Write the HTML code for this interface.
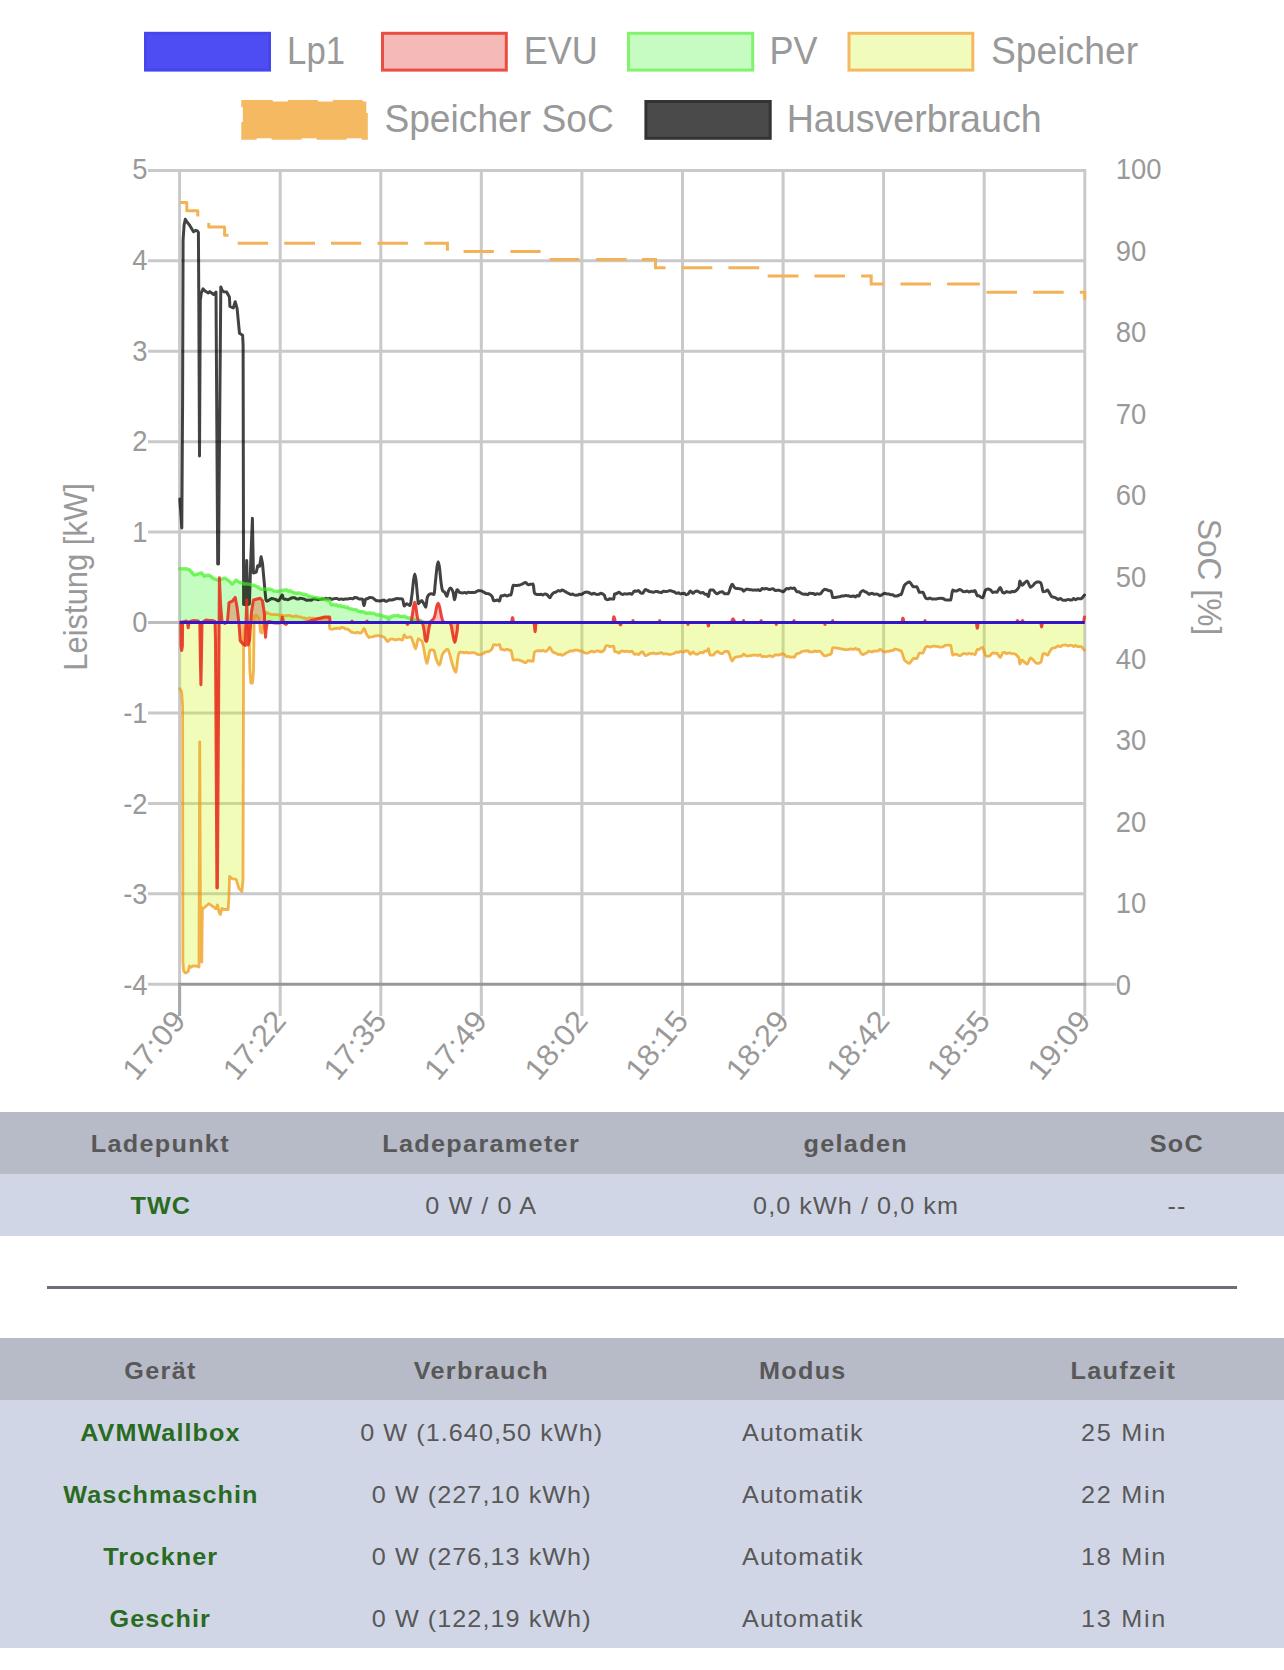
<!DOCTYPE html><html lang="de"><head><meta charset="utf-8"><title>openWB</title><style>
html,body{margin:0;padding:0;background:#fff;}
body{width:1284px;height:1670px;overflow:hidden;font-family:"Liberation Sans",Arial,Helvetica,sans-serif;color:#555;}
.tbl{display:flex;width:1284px;}
.sx{display:inline-block;transform:scaleX(1.05);transform-origin:50% 50%;}
.tbl div{text-align:center;font-size:24px;letter-spacing:1.0px;white-space:nowrap;box-sizing:border-box;}
.hd{background:#b7bac7;height:62px;line-height:63px;font-weight:bold;color:#585858;letter-spacing:1.25px !important;}
.rw{background:#d1d6e6;height:62px;line-height:63px;color:#585858;}
.rw b{color:#2a6b22;font-weight:bold;letter-spacing:1.0px;}
.tbl div.hd,.tbl.hd div{letter-spacing:1.25px}
.mn{letter-spacing:1.65px}
.t2 div{line-height:65px}
.c3{width:321px}.c4{width:428px}.c2{width:214px}
hr{border:0;height:3px;background:#6c6f78;margin:0;position:absolute;left:47px;width:1190px;top:1286px;}
</style></head><body>
<svg width="1284" height="1112" viewBox="0 0 1284 1112" style="display:block">
<rect width="1284" height="1112" fill="#fff"/>
<g font-family="'Liberation Sans', Arial, Helvetica, sans-serif">
<rect x="145.5" y="33.3" width="124.0" height="36.8" fill="#4d4df3" stroke="#4646ee" stroke-width="3"/>
<text x="287.1" y="64.2" font-size="38.5" fill="#999999" textLength="58.0" lengthAdjust="spacingAndGlyphs">Lp1</text>
<rect x="382.5" y="33.3" width="123.8" height="36.8" fill="#f5b9b8" stroke="#ea4d41" stroke-width="3"/>
<text x="523.7" y="64.2" font-size="38.5" fill="#999999" textLength="74.1" lengthAdjust="spacingAndGlyphs">EVU</text>
<rect x="628.5" y="33.3" width="124.2" height="36.8" fill="#c6fbc1" stroke="#7ff46c" stroke-width="3"/>
<text x="769.5" y="64.2" font-size="38.5" fill="#999999" textLength="48.0" lengthAdjust="spacingAndGlyphs">PV</text>
<rect x="849.0" y="33.3" width="123.8" height="36.8" fill="#f1fcbc" stroke="#f5b861" stroke-width="3"/>
<text x="990.9" y="64.2" font-size="38.5" fill="#999999" textLength="147.2" lengthAdjust="spacingAndGlyphs">Speicher</text>
<rect x="242.8" y="101.5" width="123.5" height="36.8" fill="#f4b961" stroke="#f4b961" stroke-width="3" stroke-dasharray="30 15"/>
<text x="384.4" y="132.3" font-size="38.5" fill="#999999" textLength="229.4" lengthAdjust="spacingAndGlyphs">Speicher SoC</text>
<rect x="645.9" y="101.5" width="124.3" height="36.8" fill="#4a4a4a" stroke="#333333" stroke-width="3"/>
<text x="786.7" y="132.3" font-size="38.5" fill="#999999" textLength="254.9" lengthAdjust="spacingAndGlyphs">Hausverbrauch</text>
<path d="M179.6,168.9 V1016.0 M280.2,168.9 V1016.0 M380.8,168.9 V1016.0 M481.3,168.9 V1016.0 M581.9,168.9 V1016.0 M682.5,168.9 V1016.0 M783.1,168.9 V1016.0 M883.6,168.9 V1016.0 M984.2,168.9 V1016.0 M1084.8,168.9 V1016.0 M148.0,170.4 H1086.3 M148.0,260.8 H1086.3 M148.0,351.2 H1086.3 M148.0,441.7 H1086.3 M148.0,532.1 H1086.3 M148.0,622.5 H1086.3 M148.0,712.9 H1086.3 M148.0,803.4 H1086.3 M148.0,893.8 H1086.3 M148.0,984.2 H179.6" stroke="#c9c9c9" stroke-width="3" fill="none"/>
<path d="M1084.8,984.2 H1116.0 M148,622.5 H179.6" stroke="#bdbdbd" stroke-width="3" fill="none"/>
<path d="M178.1,984.2 H1086.3" stroke="#979797" stroke-width="3" fill="none"/>
<path d="M179.6,984.2 V1016" stroke="#a8a8a8" stroke-width="3" fill="none"/>
<text transform="translate(147.6,179.2) scale(0.945,1)" font-size="29" fill="#999999" text-anchor="end">5</text>
<text transform="translate(147.6,269.9) scale(0.945,1)" font-size="29" fill="#999999" text-anchor="end">4</text>
<text transform="translate(147.6,360.5) scale(0.945,1)" font-size="29" fill="#999999" text-anchor="end">3</text>
<text transform="translate(147.6,451.2) scale(0.945,1)" font-size="29" fill="#999999" text-anchor="end">2</text>
<text transform="translate(147.6,541.8) scale(0.945,1)" font-size="29" fill="#999999" text-anchor="end">1</text>
<text transform="translate(147.6,632.4) scale(0.945,1)" font-size="29" fill="#999999" text-anchor="end">0</text>
<text transform="translate(147.6,723.1) scale(0.945,1)" font-size="29" fill="#999999" text-anchor="end">-1</text>
<text transform="translate(147.6,813.7) scale(0.945,1)" font-size="29" fill="#999999" text-anchor="end">-2</text>
<text transform="translate(147.6,904.4) scale(0.945,1)" font-size="29" fill="#999999" text-anchor="end">-3</text>
<text transform="translate(147.6,995.0) scale(0.945,1)" font-size="29" fill="#999999" text-anchor="end">-4</text>
<text transform="translate(1115.7,994.7) scale(0.945,1)" font-size="29" fill="#999999">0</text>
<text transform="translate(1115.7,913.1) scale(0.945,1)" font-size="29" fill="#999999">10</text>
<text transform="translate(1115.7,831.6) scale(0.945,1)" font-size="29" fill="#999999">20</text>
<text transform="translate(1115.7,750.0) scale(0.945,1)" font-size="29" fill="#999999">30</text>
<text transform="translate(1115.7,668.5) scale(0.945,1)" font-size="29" fill="#999999">40</text>
<text transform="translate(1115.7,586.9) scale(0.945,1)" font-size="29" fill="#999999">50</text>
<text transform="translate(1115.7,505.4) scale(0.945,1)" font-size="29" fill="#999999">60</text>
<text transform="translate(1115.7,423.8) scale(0.945,1)" font-size="29" fill="#999999">70</text>
<text transform="translate(1115.7,342.3) scale(0.945,1)" font-size="29" fill="#999999">80</text>
<text transform="translate(1115.7,260.8) scale(0.945,1)" font-size="29" fill="#999999">90</text>
<text transform="translate(1115.7,179.2) scale(0.945,1)" font-size="29" fill="#999999">100</text>
<text transform="translate(179.1,1015.0) rotate(-50) scale(1.050,1)" x="0" y="10.2" font-size="30" fill="#999999" text-anchor="end">17:09</text>
<text transform="translate(279.7,1015.0) rotate(-50) scale(1.050,1)" x="0" y="10.2" font-size="30" fill="#999999" text-anchor="end">17:22</text>
<text transform="translate(380.3,1015.0) rotate(-50) scale(1.050,1)" x="0" y="10.2" font-size="30" fill="#999999" text-anchor="end">17:35</text>
<text transform="translate(480.8,1015.0) rotate(-50) scale(1.050,1)" x="0" y="10.2" font-size="30" fill="#999999" text-anchor="end">17:49</text>
<text transform="translate(581.4,1015.0) rotate(-50) scale(1.050,1)" x="0" y="10.2" font-size="30" fill="#999999" text-anchor="end">18:02</text>
<text transform="translate(682.0,1015.0) rotate(-50) scale(1.050,1)" x="0" y="10.2" font-size="30" fill="#999999" text-anchor="end">18:15</text>
<text transform="translate(782.6,1015.0) rotate(-50) scale(1.050,1)" x="0" y="10.2" font-size="30" fill="#999999" text-anchor="end">18:29</text>
<text transform="translate(883.1,1015.0) rotate(-50) scale(1.050,1)" x="0" y="10.2" font-size="30" fill="#999999" text-anchor="end">18:42</text>
<text transform="translate(983.7,1015.0) rotate(-50) scale(1.050,1)" x="0" y="10.2" font-size="30" fill="#999999" text-anchor="end">18:55</text>
<text transform="translate(1084.3,1015.0) rotate(-50) scale(1.050,1)" x="0" y="10.2" font-size="30" fill="#999999" text-anchor="end">19:09</text>
<text transform="translate(76.3,577) rotate(-90)" x="0" y="10.8" font-size="32.5" fill="#999999" text-anchor="middle" textLength="187.5" lengthAdjust="spacingAndGlyphs">Leistung [kW]</text>
<text transform="translate(1208.4,577) rotate(90)" x="0" y="10.8" font-size="32.5" fill="#999999" text-anchor="middle" textLength="116.5" lengthAdjust="spacingAndGlyphs">SoC [%]</text>
</g>
<g stroke-linejoin="round" stroke-linecap="round" fill="none">
<path d="M179.8,688.6 C179.8,688.6 181.6,692.0 181.6,692.0 C181.6,692.0 182.6,706.0 182.6,706.0 C182.6,706.0 182.9,962.0 182.9,962.0 C182.9,962.0 183.6,971.0 183.6,971.0 C183.6,971.0 185.5,973.0 185.5,973.0 C185.5,973.0 188.2,971.5 188.2,971.5 C188.2,971.5 189.6,966.0 189.6,966.0 C189.6,966.0 190.8,967.3 190.8,967.3 C190.8,967.3 193.0,965.8 193.0,965.8 C193.0,965.8 196.6,966.2 196.6,966.2 C196.6,966.2 199.0,967.0 199.0,967.0 C199.0,967.0 199.7,741.8 199.7,741.8 C199.7,741.8 200.6,960.0 200.6,960.0 C200.6,960.0 201.8,962.0 201.8,962.0 C201.8,962.0 202.4,908.0 202.4,908.0 C202.4,908.0 203.0,908.8 203.0,908.8 C203.0,908.8 208.8,903.7 208.8,903.7 C208.8,903.7 216.0,908.8 216.0,908.8 C216.0,908.8 217.5,905.0 217.5,905.0 C217.5,905.0 219.0,912.0 219.0,912.0 C219.0,912.0 220.3,914.5 220.3,914.5 C220.3,914.5 222.0,908.5 222.0,908.5 C222.0,908.5 223.9,909.5 223.9,909.5 C223.9,909.5 228.2,909.5 228.2,909.5 C228.2,909.5 229.0,895.0 229.0,895.0 C229.0,895.0 229.6,876.4 229.6,876.4 C229.6,876.4 231.8,878.6 231.8,878.6 C231.8,878.6 236.1,879.3 236.1,879.3 C236.1,879.3 239.0,888.6 239.0,888.6 C239.0,888.6 241.9,891.5 241.9,891.5 C241.9,891.5 243.0,880.0 243.0,880.0 C243.0,880.0 243.6,640.0 243.6,640.0 C243.6,640.0 245.0,628.0 245.0,628.0 C245.0,628.0 247.0,625.0 247.0,625.0 C247.0,625.0 249.2,636.0 249.2,636.0 C249.2,636.0 249.8,670.0 249.8,670.0 C249.8,670.0 250.8,683.0 250.8,683.0 C250.8,683.0 252.5,683.0 252.5,683.0 C252.5,683.0 253.6,670.0 253.6,670.0 C253.6,670.0 254.2,616.0 254.2,616.0 C254.2,616.0 256.0,615.0 256.0,615.0 C256.0,615.0 259.0,618.0 259.0,618.0 C259.0,618.0 260.5,632.0 260.5,632.0 C260.5,632.0 262.0,633.0 262.0,633.0 C262.0,633.0 264.0,618.0 264.0,618.0 C264.0,618.0 265.9,612.3 265.9,612.3 C265.9,612.3 269.0,613.6 270.7,614.2 C271.3,614.4 271.9,614.6 272.5,614.7 C273.1,614.7 273.7,614.5 274.3,614.5 C275.0,614.5 275.5,614.7 276.2,614.7 C276.8,614.7 277.4,614.6 278.0,614.6 C278.6,614.8 279.1,615.3 279.8,615.4 C280.5,615.4 281.1,615.2 281.8,615.2 C282.5,615.3 283.0,615.6 283.7,615.7 C284.4,615.8 285.0,615.9 285.7,615.9 C286.4,615.8 286.9,615.4 287.6,615.4 C288.3,615.4 288.9,615.4 289.6,615.4 C290.3,615.5 290.8,615.9 291.5,616.1 C292.1,616.3 292.7,616.5 293.3,616.5 C294.0,616.5 294.5,616.1 295.2,616.0 C295.9,616.0 296.5,616.0 297.1,616.2 C297.8,616.3 298.3,616.8 299.0,616.9 C299.6,616.9 300.2,616.9 300.8,616.9 C301.5,617.1 302.0,617.7 302.7,617.9 C303.3,617.9 303.9,617.8 304.5,617.8 C305.2,618.0 305.7,618.7 306.3,618.8 C306.9,618.8 307.5,618.4 308.1,618.2 C308.8,618.0 309.3,617.7 309.9,617.7 C310.6,617.8 311.1,618.7 311.8,618.8 C312.4,618.8 312.9,618.0 313.6,618.0 C314.2,618.0 314.7,618.9 315.4,618.9 C316.0,618.9 316.5,618.2 317.2,618.2 C317.8,618.2 318.4,618.6 319.0,618.7 C319.7,618.9 320.3,619.0 321.0,619.0 C321.7,618.9 322.2,618.4 323.0,618.1 C323.6,617.8 324.3,617.5 324.9,617.5 C325.7,617.6 326.2,618.4 326.9,618.5 C327.6,618.5 328.7,617.9 328.9,617.9 C329.7,620.8 328.9,625.3 329.7,628.5 C329.9,629.3 331.3,629.3 332.2,629.3 C332.9,629.3 333.4,628.8 334.1,628.7 C334.8,628.6 335.3,628.6 336.0,628.5 C336.7,628.4 337.2,628.2 337.9,628.2 C338.6,628.2 339.2,628.8 339.8,628.8 C340.5,628.7 341.0,627.6 341.7,627.4 C342.3,627.4 343.0,627.4 343.6,627.7 C344.3,628.0 344.8,628.7 345.6,629.0 C346.2,629.1 346.9,629.0 347.5,629.1 C348.3,629.4 348.8,630.0 349.5,630.6 C350.2,631.1 350.7,631.8 351.4,632.2 C352.0,632.5 352.7,632.4 353.4,632.6 C354.1,632.8 354.8,633.1 355.4,633.1 C356.2,633.0 356.8,632.1 357.5,632.1 C358.2,632.1 358.8,633.1 359.6,633.2 C360.2,633.2 361.1,633.1 361.6,632.6 C362.7,631.5 363.3,628.5 364.0,628.5 C365.0,628.8 365.4,632.3 366.5,634.2 C367.2,635.5 368.0,636.8 369.0,637.5 C369.5,637.5 370.2,637.0 370.8,636.9 C371.4,636.9 372.0,636.9 372.6,636.9 C373.3,636.8 373.8,636.4 374.5,636.2 C375.1,636.0 375.7,636.0 376.3,635.9 C377.0,635.8 377.6,635.7 378.4,635.7 C379.1,635.7 379.7,635.9 380.4,636.1 C381.1,636.2 381.8,636.2 382.4,636.5 C383.2,636.7 383.9,637.0 384.5,637.5 C385.8,638.8 386.6,641.3 387.8,641.6 C388.6,641.6 389.2,639.7 390.2,639.1 C390.7,639.1 391.3,639.1 392.0,639.1 C392.6,639.2 393.1,639.2 393.7,639.3 C394.3,639.5 394.8,640.0 395.5,640.0 C396.1,640.0 396.6,639.6 397.2,639.5 C397.8,639.4 398.4,639.2 399.0,639.2 C399.6,639.2 400.1,639.5 400.7,639.6 C401.4,639.8 402.2,640.0 402.5,640.0 C403.4,638.7 403.4,635.2 404.3,634.8 C404.9,634.8 405.7,637.3 406.7,637.9 C407.2,637.9 408.0,637.5 408.6,637.3 C409.3,637.1 410.2,636.8 410.6,636.8 C411.7,637.9 412.2,640.0 412.9,641.8 C413.9,644.2 414.8,648.8 415.6,648.8 C416.7,648.2 417.0,641.2 418.3,638.7 C418.6,638.7 419.6,639.5 420.2,640.0 C421.0,640.6 421.9,641.0 422.2,641.8 C423.3,644.9 423.5,647.9 424.2,651.2 C425.1,655.5 425.9,663.6 426.9,663.6 C427.9,663.5 428.5,654.6 430.0,650.4 C430.2,650.0 431.3,650.0 431.9,650.0 C432.6,650.0 433.6,650.0 433.9,650.4 C435.1,653.0 435.1,656.1 436.2,659.0 C437.0,661.3 438.6,665.2 439.4,665.2 C440.8,664.2 441.0,657.9 442.5,654.3 C443.2,652.7 444.4,651.6 445.6,650.4 C446.1,649.8 447.1,649.2 447.5,649.2 C448.4,649.9 449.0,651.9 449.5,653.5 C450.8,657.5 451.3,661.2 452.6,665.2 C453.4,667.7 455.1,672.2 455.7,672.2 C457.0,670.4 457.0,662.5 458.0,657.4 C458.4,655.5 458.5,653.3 459.6,652.2 C460.3,652.2 461.8,652.2 463.0,652.4 C463.6,652.5 464.2,652.9 464.8,652.9 C465.4,652.8 465.9,652.1 466.5,652.1 C467.1,652.1 467.6,653.0 468.2,653.1 C468.8,653.1 469.4,652.9 470.0,652.8 C470.9,652.7 471.6,652.7 472.5,652.7 C473.4,652.7 474.2,652.7 475.0,652.9 C476.2,653.3 477.0,654.4 478.2,654.7 C479.2,654.7 480.3,654.7 481.4,654.4 C482.2,654.2 482.8,653.8 483.4,653.4 C484.2,653.0 484.7,652.5 485.5,652.1 C486.2,651.9 486.8,651.9 487.6,651.7 C488.3,651.5 489.0,651.5 489.6,651.1 C490.6,650.5 491.5,649.7 492.1,648.7 C492.9,647.4 492.8,645.6 493.7,644.6 C494.1,644.6 494.9,644.7 495.6,644.8 C496.3,644.9 496.9,645.2 497.5,645.2 C498.2,645.1 499.1,644.3 499.4,644.3 C500.3,645.4 500.2,648.1 501.1,649.5 C501.4,649.6 502.4,649.5 503.1,649.6 C503.8,649.8 504.4,650.2 505.0,650.2 C505.7,650.1 506.3,649.2 507.0,649.2 C507.7,649.2 508.2,650.0 508.9,650.2 C509.6,650.3 510.7,650.2 510.9,650.3 C512.2,653.2 512.0,657.3 513.3,660.1 C513.5,660.1 514.6,659.9 515.2,659.9 C515.9,659.9 516.5,659.9 517.2,659.9 C517.8,660.0 518.4,659.9 519.1,660.1 C520.2,660.4 521.2,660.8 522.3,661.3 C523.5,661.8 524.5,662.9 525.6,662.9 C526.6,662.8 527.1,661.0 528.1,660.6 C528.8,660.6 529.7,660.9 530.5,661.0 C531.4,661.1 532.7,661.3 533.0,661.3 C534.1,658.8 533.5,654.8 534.6,652.0 C534.9,651.2 536.2,651.1 537.1,650.8 C537.7,650.7 538.4,650.7 539.1,650.7 C539.7,650.8 540.3,651.0 541.0,651.0 C541.7,650.9 542.3,650.4 543.0,650.4 C543.7,650.5 544.2,651.3 544.9,651.4 C545.6,651.4 546.4,651.2 546.9,650.8 C548.1,649.9 548.9,647.6 549.8,647.5 C550.5,647.5 550.9,649.4 551.6,650.3 C552.2,651.1 552.6,651.9 553.4,652.4 C554.1,652.9 555.0,652.8 555.8,653.2 C556.8,653.6 557.4,654.5 558.3,654.7 C558.9,654.7 559.6,654.2 560.2,654.2 C560.9,654.3 561.4,655.3 562.1,655.3 C562.7,655.3 563.4,654.7 564.0,654.4 C564.8,654.0 565.4,653.5 566.2,653.1 C567.0,652.7 567.6,652.4 568.4,652.0 C569.2,651.6 569.8,651.0 570.6,650.8 C571.2,650.8 571.8,651.2 572.4,651.2 C573.0,651.1 573.5,650.6 574.1,650.4 C574.7,650.2 575.3,650.2 575.9,650.1 C576.5,650.1 577.1,650.1 577.7,650.2 C578.3,650.4 578.8,651.0 579.4,651.1 C580.0,651.1 580.6,650.8 581.2,650.8 C582.4,651.2 583.3,652.2 584.5,652.8 C585.2,653.1 585.8,653.2 586.5,653.2 C587.3,653.2 587.9,653.1 588.6,652.8 C589.8,652.3 590.7,651.3 591.9,651.1 C592.5,651.1 593.0,651.9 593.7,652.0 C594.3,652.0 594.8,651.5 595.5,651.3 C596.1,651.1 596.6,650.9 597.2,650.9 C597.9,650.9 598.4,650.9 599.0,651.1 C599.7,651.3 600.2,652.0 600.8,652.0 C602.0,651.8 603.3,651.2 604.1,650.3 C605.1,649.2 604.9,647.3 605.8,646.2 C606.2,645.7 607.1,645.6 607.8,645.6 C608.5,645.6 609.0,646.4 609.7,646.5 C610.3,646.5 611.0,646.5 611.6,646.4 C612.3,646.3 613.3,646.2 613.6,646.2 C614.4,647.5 613.9,650.1 614.7,651.5 C615.0,651.8 616.1,651.5 616.8,651.8 C617.5,652.1 618.1,653.1 618.8,653.1 C619.5,653.1 620.1,652.0 620.8,651.5 C621.5,651.2 622.2,650.8 622.9,650.8 C623.5,650.8 624.1,651.5 624.7,651.6 C625.3,651.6 625.9,651.2 626.5,651.2 C627.1,651.2 627.7,651.4 628.3,651.5 C628.9,651.6 629.5,651.8 630.1,651.8 C630.7,651.7 631.4,651.1 631.9,651.1 C632.9,651.7 633.3,653.7 634.4,654.4 C634.9,654.4 635.7,654.0 636.5,654.0 C637.2,654.1 637.9,654.7 638.5,654.7 C639.3,654.4 639.7,653.1 640.5,652.6 C641.1,652.2 642.1,652.0 642.6,652.0 C643.7,652.8 644.2,655.1 645.3,655.7 C645.9,655.7 646.8,655.2 647.6,654.8 C648.4,654.5 649.1,653.9 649.9,653.6 C650.5,653.4 651.2,653.5 651.9,653.4 C652.5,653.3 653.2,653.1 653.8,653.1 C654.5,653.2 655.1,653.8 655.8,653.9 C656.4,653.9 657.1,653.7 657.7,653.6 C658.4,653.4 659.0,653.3 659.7,653.1 C660.3,653.0 660.9,652.7 661.4,652.7 C662.1,652.9 662.5,653.8 663.1,654.0 C663.7,654.0 664.2,653.9 664.9,653.9 C665.5,653.9 666.0,653.9 666.6,653.9 C667.2,653.9 667.7,654.0 668.3,654.2 C668.9,654.3 669.4,654.7 670.0,654.7 C670.8,654.7 671.4,654.2 672.2,654.0 C672.9,653.8 673.6,653.8 674.3,653.4 C675.1,653.1 675.7,652.2 676.5,652.0 C677.1,652.0 677.8,652.5 678.4,652.5 C679.1,652.4 679.6,651.6 680.3,651.4 C681.0,651.4 681.6,651.7 682.2,651.8 C682.9,651.9 683.6,652.0 684.2,652.0 C684.9,651.8 685.4,650.8 686.1,650.6 C686.7,650.6 687.5,650.7 688.0,651.1 C689.0,652.0 689.5,654.2 690.4,654.4 C691.2,654.4 692.0,652.1 692.9,652.0 C693.6,652.0 694.2,653.3 695.0,653.8 C695.6,654.1 696.3,654.4 697.0,654.4 C697.7,654.3 698.3,653.7 699.0,653.4 C699.7,653.0 700.2,652.4 700.9,652.3 C701.6,652.3 702.3,652.9 702.9,652.9 C703.7,652.6 704.1,651.4 704.8,651.1 C705.4,651.1 706.3,651.1 706.8,651.1 C707.5,650.6 708.1,648.7 708.4,648.7 C709.2,649.7 708.9,653.7 710.1,655.2 C710.7,655.2 712.4,655.2 713.3,655.2 C714.2,654.8 714.5,653.4 715.3,652.7 C716.0,652.1 716.7,651.5 717.4,651.5 C718.3,651.6 718.9,652.7 719.8,653.1 C720.6,653.4 721.5,653.6 722.3,653.6 C723.3,653.3 723.8,651.9 724.8,651.5 C725.8,651.5 727.4,651.5 728.1,651.5 C729.4,653.0 729.6,655.6 730.5,657.7 C731.0,658.9 731.5,661.0 732.2,661.0 C733.0,661.0 733.6,658.7 734.6,657.7 C735.1,657.2 735.8,657.0 736.5,656.9 C737.1,656.8 737.7,656.9 738.3,656.8 C739.0,656.7 739.5,656.6 740.1,656.4 C740.8,656.3 741.5,656.4 742.0,656.0 C742.7,655.5 743.0,654.1 743.6,654.1 C744.4,654.1 745.1,655.5 746.1,656.0 C746.6,656.1 747.2,656.1 747.8,656.1 C748.5,656.1 749.0,655.7 749.6,655.6 C750.2,655.6 750.7,655.6 751.3,655.6 C751.9,655.5 752.4,655.1 753.0,655.1 C753.6,655.1 754.2,655.3 754.8,655.3 C755.4,655.3 755.9,655.1 756.5,655.1 C757.1,655.1 757.7,655.6 758.3,655.6 C758.9,655.5 759.5,654.7 760.0,654.7 C760.9,655.0 761.5,656.5 762.4,656.9 C762.9,656.9 763.6,656.4 764.2,656.4 C764.8,656.4 765.4,656.7 766.0,656.7 C766.6,656.7 767.2,656.5 767.8,656.4 C768.4,656.2 769.0,655.7 769.6,655.7 C770.2,655.7 770.7,656.3 771.4,656.4 C772.1,656.5 772.7,656.5 773.3,656.5 C774.1,656.2 774.5,655.2 775.2,654.8 C775.8,654.8 776.5,655.0 777.1,655.0 C777.8,655.0 778.4,655.0 779.1,655.0 C779.8,654.8 780.3,654.6 781.0,654.4 C781.7,654.1 782.3,653.6 782.9,653.6 C783.7,653.7 784.2,654.6 784.9,655.1 C785.6,655.7 786.1,656.7 786.9,656.9 C787.5,656.9 788.1,656.3 788.8,656.3 C789.4,656.4 789.9,657.3 790.6,657.4 C791.2,657.4 791.8,656.8 792.4,656.8 C793.1,656.8 793.8,657.3 794.3,657.3 C795.4,656.5 795.7,654.5 796.8,653.6 C797.2,653.5 798.0,653.6 798.6,653.5 C799.3,653.3 799.8,652.9 800.5,652.5 C801.1,652.1 801.6,651.6 802.3,651.4 C802.9,651.1 803.5,651.1 804.1,651.1 C804.7,651.1 805.3,651.2 805.9,651.2 C806.6,651.1 807.2,650.6 807.7,650.6 C808.4,650.8 808.9,651.8 809.6,652.0 C810.1,652.0 810.8,651.9 811.4,651.9 C812.0,651.9 812.6,651.9 813.2,651.9 C813.9,651.7 814.4,650.9 815.0,650.8 C815.6,650.8 816.2,651.5 816.9,651.6 C817.5,651.6 818.0,651.2 818.7,651.2 C819.3,651.2 820.0,651.2 820.5,651.5 C821.4,652.2 821.8,653.2 822.5,654.1 C823.2,654.8 823.8,655.7 824.6,656.0 C825.3,656.0 826.0,655.8 826.8,655.5 C827.5,655.3 828.2,654.9 828.9,654.6 C829.7,654.4 830.8,654.6 831.1,654.1 C832.1,652.4 831.8,649.7 832.7,647.9 C833.0,647.7 833.9,647.7 834.5,647.7 C835.1,647.7 835.6,647.8 836.3,648.0 C836.9,648.1 837.4,648.3 838.0,648.4 C838.7,648.5 839.2,648.4 839.8,648.5 C840.5,648.6 841.0,649.1 841.6,649.2 C842.2,649.2 842.8,649.2 843.4,649.2 C844.0,649.3 844.5,649.8 845.1,649.8 C845.7,649.8 846.2,649.6 846.8,649.6 C847.4,649.5 848.0,649.6 848.6,649.5 C849.2,649.4 849.7,649.0 850.3,648.9 C850.9,648.9 851.4,649.0 852.0,649.1 C852.6,649.2 853.2,649.3 853.7,649.3 C854.4,649.2 854.9,648.4 855.5,648.4 C856.1,648.5 856.5,649.6 857.2,649.7 C857.7,649.7 858.5,649.2 858.9,649.2 C859.7,649.9 859.7,651.7 860.5,652.8 C861.1,653.7 862.1,654.5 863.0,654.7 C863.6,654.7 864.2,653.9 864.9,653.6 C865.5,653.3 866.2,653.3 866.8,652.9 C867.5,652.4 867.9,651.2 868.7,651.1 C869.7,651.1 870.9,652.0 872.0,652.0 C872.7,652.0 873.3,651.1 874.0,651.0 C874.7,651.0 875.3,651.2 876.0,651.2 C876.7,651.2 877.4,651.2 878.0,650.9 C878.8,650.6 879.3,649.5 880.0,649.5 C880.8,649.5 881.6,650.6 882.5,651.0 C883.3,651.4 884.0,651.9 884.9,652.0 C885.6,652.0 886.2,651.4 886.9,651.3 C887.5,651.3 888.2,651.4 888.8,651.4 C889.5,651.3 890.1,650.7 890.8,650.5 C891.4,650.5 892.1,650.6 892.7,650.6 C893.5,650.3 893.9,649.4 894.7,649.2 C895.4,649.2 896.2,649.2 896.9,649.3 C897.7,649.5 898.3,649.9 899.1,650.3 C899.9,650.6 900.9,650.4 901.3,651.1 C902.8,653.9 903.0,657.2 904.5,660.1 C905.0,661.1 906.0,661.7 907.0,662.3 C907.7,662.8 908.7,663.4 909.4,663.4 C910.3,663.1 910.7,661.8 911.5,660.9 C912.2,660.1 912.6,658.9 913.5,658.5 C914.5,658.5 916.1,658.5 916.8,658.5 C918.1,657.3 918.1,654.6 919.3,653.1 C919.6,653.1 920.5,653.1 921.1,653.1 C921.7,653.1 922.6,653.1 922.9,653.1 C924.2,651.5 924.5,648.8 925.8,647.1 C926.2,646.5 927.1,646.5 927.8,646.5 C928.6,646.5 929.2,647.2 929.9,647.2 C930.6,647.2 931.2,646.5 932.0,646.3 C932.6,646.2 933.3,646.2 934.0,646.2 C934.8,646.2 935.4,646.3 936.2,646.4 C936.9,646.5 937.6,646.6 938.3,646.7 C939.1,646.9 939.7,647.1 940.5,647.1 C941.4,647.1 942.1,647.1 943.0,646.8 C943.9,646.5 944.5,645.7 945.4,645.4 C946.0,645.2 946.5,645.2 947.2,645.2 C947.8,645.2 948.3,645.2 948.9,645.2 C949.6,645.3 950.5,645.2 950.7,645.4 C951.8,648.4 951.6,652.7 952.8,655.2 C953.1,655.2 954.1,654.4 954.8,654.3 C955.5,654.3 956.2,654.3 956.9,654.4 C957.8,654.7 958.4,655.5 959.3,655.7 C959.9,655.7 960.6,655.6 961.2,655.3 C961.9,654.9 962.3,654.0 963.1,653.7 C963.7,653.6 964.4,653.6 965.0,653.6 C965.7,653.7 966.3,654.2 967.0,654.2 C967.7,654.2 968.3,653.4 969.0,653.3 C969.6,653.3 970.2,653.9 970.9,654.0 C971.6,654.0 972.3,653.9 972.9,653.9 C973.6,654.0 974.5,654.7 974.9,654.7 C976.0,653.6 976.2,650.9 977.3,649.5 C977.7,649.5 978.5,649.5 979.1,649.5 C979.8,649.2 980.2,648.5 980.9,648.1 C981.5,647.8 982.4,647.5 982.7,647.5 C984.0,649.5 984.1,652.9 985.5,655.2 C986.0,656.0 987.1,656.4 988.0,656.4 C988.9,656.4 989.7,655.8 990.5,655.3 C991.4,654.6 991.9,653.2 992.9,652.8 C993.5,652.8 994.2,653.3 994.9,653.4 C995.6,653.4 996.4,653.1 996.9,653.1 C998.3,654.2 999.2,657.7 1000.2,657.7 C1001.2,657.6 1001.6,654.2 1002.7,652.8 C1003.1,652.4 1004.0,652.4 1004.6,652.4 C1005.3,652.6 1005.7,653.5 1006.4,653.7 C1007.0,653.7 1007.7,653.3 1008.3,653.2 C1009.0,653.1 1009.6,653.0 1010.2,653.0 C1010.9,653.2 1011.4,653.8 1012.1,653.9 C1012.7,653.9 1013.3,653.6 1013.9,653.6 C1014.6,653.7 1015.3,653.9 1015.8,654.4 C1017.1,655.6 1018.3,656.9 1019.0,658.5 C1019.7,660.3 1019.2,663.9 1019.8,664.2 C1020.3,664.2 1021.3,660.4 1022.3,660.1 C1023.0,660.1 1023.8,661.8 1024.8,662.6 C1025.5,663.3 1026.6,664.2 1027.2,664.2 C1028.6,663.1 1029.1,659.2 1030.5,658.0 C1031.0,658.0 1032.0,658.9 1032.7,659.5 C1033.5,660.3 1034.0,661.2 1034.8,662.0 C1035.5,662.6 1036.2,663.1 1037.0,663.4 C1037.7,663.4 1038.4,663.4 1039.0,663.3 C1039.8,663.0 1040.8,662.6 1041.1,661.8 C1042.2,659.2 1042.0,655.8 1043.2,653.6 C1043.5,653.6 1044.7,653.7 1045.4,653.9 C1046.2,654.2 1047.0,655.2 1047.6,655.2 C1048.5,654.7 1048.9,652.9 1049.7,651.8 C1050.3,650.7 1050.8,649.5 1051.7,648.7 C1052.3,648.2 1053.1,648.3 1053.9,648.0 C1054.7,647.8 1055.4,647.6 1056.1,647.2 C1056.9,646.8 1057.5,646.0 1058.3,645.9 C1059.0,645.9 1059.6,646.7 1060.3,646.7 C1061.0,646.6 1061.5,645.8 1062.2,645.5 C1062.9,645.2 1063.5,645.2 1064.2,645.1 C1064.9,645.1 1065.5,645.1 1066.1,645.1 C1066.9,645.3 1067.4,645.9 1068.1,645.9 C1068.7,645.9 1069.3,645.4 1070.0,645.3 C1070.6,645.3 1071.3,645.3 1071.8,645.3 C1072.6,645.6 1073.0,646.7 1073.7,646.7 C1074.4,646.7 1074.9,645.5 1075.6,645.5 C1076.2,645.5 1076.7,646.5 1077.5,646.7 C1078.1,646.7 1078.7,646.5 1079.3,646.5 C1080.0,646.5 1080.7,646.5 1081.2,646.6 C1082.5,647.6 1083.3,649.0 1084.5,650.3 L1084.5,622.5 L179.8,622.5 Z" fill="rgba(205,245,20,0.30)" stroke="none"/>
<path d="M179.6,568.6 L184.0,568.9 L189.2,569.6 L194.0,574.9 L198.0,574.0 L201.6,572.9 L204.5,576.3 L209.3,575.3 L215.0,579.2 L218.0,580.1 L225.1,578.2 L229.0,581.0 L232.3,584.0 L236.1,580.1 L240.0,582.5 L243.8,584.0 L249.6,584.4 L256.3,586.3 L262.0,589.2 L267.8,589.2 L275.4,591.1 L279.8,590.9 L284.7,590.1 L302.7,594.2 L319.1,598.2 L329.7,600.7 L331.3,604.8 L343.6,606.4 L355.0,609.7 L368.1,613.0 L381.2,615.4 L387.0,617.0 L388.6,619.5 L390.2,617.0 L397.6,615.4 L405.8,617.0 L412.3,619.5 L422.1,621.2 L428.7,622.2 L432.0,622.5 L432.0,622.5 L179.6,622.5 Z" fill="rgba(40,245,20,0.27)" stroke="none"/>
<path d="M180.8,622.0 C180.8,622.0 181.0,646.0 181.0,646.0 C181.0,646.0 181.7,650.5 181.7,650.5 C181.7,650.5 182.4,646.0 182.4,646.0 C182.4,646.0 182.6,622.0 182.6,622.0 C182.6,622.0 186.5,621.0 186.5,621.0 C186.5,621.0 187.6,623.0 187.6,623.0 C187.6,623.0 188.2,627.7 188.2,627.7 C188.2,627.7 188.9,623.0 188.9,623.0 C188.9,623.0 189.8,621.5 189.8,621.5 C189.8,621.5 194.0,620.5 194.0,620.5 C194.0,620.5 198.2,621.0 198.2,621.0 C198.2,621.0 199.8,623.0 199.8,623.0 C199.8,623.0 200.4,660.0 200.4,660.0 C200.4,660.0 200.9,684.8 200.9,684.8 C200.9,684.8 201.4,660.0 201.4,660.0 C201.4,660.0 202.0,623.0 202.0,623.0 C202.0,623.0 203.4,621.5 203.4,621.5 C203.4,621.5 206.0,620.0 206.0,620.0 C206.0,620.0 209.5,620.5 209.5,620.5 C209.5,620.5 212.0,620.5 212.0,620.5 C212.0,620.5 215.0,621.5 215.0,621.5 C215.0,621.5 215.5,640.0 215.5,640.0 C215.5,640.0 216.9,888.0 216.9,888.0 C216.9,888.0 217.4,888.0 217.4,888.0 C217.4,888.0 219.4,577.7 219.4,577.7 C219.4,577.7 220.6,605.0 220.6,605.0 C220.6,605.0 222.0,621.5 222.0,621.5 C222.0,621.5 225.0,623.5 225.0,623.5 C225.0,623.5 227.5,621.0 227.5,621.0 C227.5,621.0 229.0,602.7 229.0,602.7 C229.0,602.7 232.3,601.2 232.3,601.2 C232.3,601.2 235.2,597.4 235.2,597.4 C235.2,597.4 237.1,607.4 237.1,607.4 C237.1,607.4 239.0,623.7 239.0,623.7 C239.0,623.7 240.2,640.7 240.2,640.7 C240.2,640.7 243.0,644.0 243.0,644.0 C243.0,644.0 245.4,645.5 245.4,645.5 C245.4,645.5 246.7,600.0 246.7,600.0 C246.7,600.0 248.0,645.0 248.0,645.0 C248.0,645.0 249.5,640.0 249.5,640.0 C249.5,640.0 251.5,612.0 251.5,612.0 C251.5,612.0 253.4,600.0 253.4,600.0 C253.4,600.0 260.1,598.3 260.1,598.3 C260.1,598.3 262.5,600.7 262.5,600.7 C262.5,600.7 264.4,614.0 264.4,614.0 C264.4,614.0 265.0,630.0 265.0,630.0 C265.0,630.0 265.5,637.3 265.5,637.3 C265.5,637.3 265.8,632.9 266.1,630.0 C266.4,627.2 266.5,625.7 267.2,623.0 C267.4,622.3 267.8,621.5 268.5,621.5 C270.9,621.5 272.4,622.8 275.0,623.0 C277.4,623.0 279.5,623.0 281.0,622.5 C282.3,621.3 281.7,617.0 282.3,617.0 C282.9,617.0 282.8,620.5 283.8,622.5 C284.3,623.5 285.1,624.5 286.0,624.5 C286.8,624.5 286.9,622.7 288.0,622.5 C292.5,622.5 295.2,622.5 300.0,622.5 C302.8,622.4 304.3,622.5 307.0,622.0 C309.1,621.6 310.0,620.9 312.0,620.3 C315.2,619.4 316.8,619.1 320.0,618.3 C322.0,617.8 323.0,617.3 325.0,617.0 C326.8,617.0 328.5,617.0 329.5,617.0 C330.4,618.2 329.5,622.0 330.4,622.5 C337.2,622.5 343.1,622.5 351.0,622.5 C351.7,622.5 351.6,621.0 352.0,621.0 C352.4,621.0 352.3,622.4 353.0,622.5 C357.9,622.5 361.1,622.5 366.0,622.5 C366.7,622.4 366.6,621.0 367.0,621.0 C367.4,621.0 367.3,622.5 368.0,622.5 C382.9,622.5 391.2,622.5 406.0,622.5 C407.0,622.5 406.9,624.5 407.5,624.5 C408.1,624.5 408.2,623.0 409.0,622.5 C409.6,622.0 410.8,622.5 411.0,622.0 C413.1,614.7 413.2,602.4 414.7,602.3 C416.2,602.3 416.0,614.8 418.5,621.5 C419.0,622.5 421.8,621.5 422.3,622.5 C424.9,629.2 424.6,641.6 426.2,641.6 C427.8,641.6 427.9,629.8 430.3,622.5 C431.0,620.3 433.1,620.1 434.0,618.0 C436.3,612.4 436.5,603.2 438.1,603.2 C440.0,603.7 440.3,613.9 442.6,620.5 C443.0,621.6 443.9,622.2 445.0,622.5 C446.8,622.5 449.0,622.5 449.9,622.5 C452.0,625.4 451.5,628.8 452.5,633.0 C453.4,636.8 453.9,642.4 454.8,642.4 C455.7,642.2 456.1,636.2 457.0,632.0 C457.8,628.2 457.0,623.1 458.9,622.5 C476.9,622.5 491.1,622.5 510.5,622.5 C512.5,622.3 511.7,617.4 512.5,617.4 C513.3,617.4 512.6,622.0 514.5,622.5 C520.9,622.5 527.8,622.5 533.3,622.5 C535.1,623.7 534.4,631.8 535.1,631.8 C535.8,631.8 535.1,622.9 536.9,622.5 C564.2,622.5 583.5,622.5 612.0,622.5 C613.9,622.3 613.1,616.7 613.9,616.7 C614.7,616.7 614.5,621.0 615.8,622.5 C616.5,622.5 618.0,622.5 619.0,622.5 C619.9,623.0 619.9,625.0 620.5,625.0 C621.1,625.0 621.0,622.7 622.0,622.5 C625.6,622.5 628.4,622.5 632.0,622.5 C632.8,622.4 632.6,620.5 633.0,620.5 C633.4,620.5 633.1,622.4 634.0,622.5 C643.4,622.5 649.3,622.5 658.7,622.5 C659.6,622.4 659.3,620.5 659.7,620.5 C660.1,620.5 659.8,622.4 660.7,622.5 C670.8,622.5 676.9,622.5 687.0,622.5 C687.9,622.6 687.6,624.5 688.0,624.5 C688.4,624.5 688.2,622.6 689.0,622.5 C695.8,622.5 700.6,622.5 707.0,622.5 C708.3,622.7 707.8,626.0 708.4,626.0 C709.0,626.0 708.4,622.7 709.8,622.5 C717.3,622.5 722.9,622.5 730.5,622.5 C732.2,622.2 732.0,618.7 733.0,618.7 C734.0,618.7 734.0,621.9 735.5,622.5 C737.8,622.5 740.1,622.5 742.5,622.5 C743.3,622.3 743.2,620.5 743.6,620.5 C744.0,620.5 743.8,622.4 744.7,622.5 C750.4,622.5 754.3,622.5 760.0,622.5 C760.9,622.4 760.7,620.5 761.1,620.5 C761.5,620.5 761.4,622.4 762.2,622.5 C767.0,622.5 770.5,622.5 775.3,622.5 C776.1,622.6 775.9,624.5 776.3,624.5 C776.7,624.5 776.5,622.6 777.3,622.5 C783.1,622.5 787.2,622.5 793.0,622.5 C793.8,622.4 793.6,620.5 794.0,620.5 C794.4,620.5 794.1,622.4 795.0,622.5 C806.1,622.5 812.9,622.5 824.0,622.5 C824.9,622.6 824.6,624.5 825.0,624.5 C825.4,624.5 825.2,622.7 826.0,622.5 C827.9,622.5 829.8,622.5 831.7,622.5 C832.5,622.3 832.3,620.5 832.7,620.5 C833.1,620.5 832.8,622.5 833.7,622.5 C860.1,622.5 875.2,622.5 901.0,622.5 C902.9,622.4 902.1,617.9 902.9,617.9 C903.7,617.9 903.1,622.1 904.8,622.5 C911.5,622.5 916.8,622.5 924.0,622.5 C924.8,622.4 924.6,620.5 925.0,620.5 C925.4,620.5 925.1,622.5 926.0,622.5 C945.3,622.5 957.2,622.5 975.5,622.5 C977.3,622.7 976.6,628.2 977.3,628.2 C978.0,628.2 977.3,622.8 979.1,622.5 C992.4,622.5 1001.6,622.5 1016.0,622.5 C1017.0,622.4 1016.9,620.5 1017.5,620.5 C1018.1,620.5 1018.2,622.1 1019.0,622.5 C1019.6,622.5 1020.4,622.5 1021.0,622.5 C1021.8,622.1 1021.9,620.5 1022.5,620.5 C1023.1,620.5 1023.1,622.4 1024.0,622.5 C1030.1,622.5 1034.6,622.5 1040.0,622.5 C1041.6,622.9 1041.0,626.9 1041.6,626.9 C1042.2,626.9 1041.6,622.7 1043.2,622.5 C1057.8,622.5 1068.1,622.5 1082.5,622.5 C1084.5,622.2 1083.7,619.2 1084.5,617.0 L1084.5,622.5 L180.8,622.5 Z" fill="rgba(255,20,10,0.28)" stroke="none"/>
<path d="M179.8,499.0 C179.8,499.0 181.0,515.0 181.0,515.0 C181.0,515.0 181.8,528.0 181.8,528.0 C181.8,528.0 182.6,400.0 182.6,400.0 C182.6,400.0 183.1,240.0 183.1,240.0 C183.1,240.0 184.1,225.0 184.1,225.0 C184.1,225.0 185.3,219.3 185.3,219.3 C185.3,219.3 187.0,222.0 187.0,222.0 C187.0,222.0 189.2,224.6 189.2,224.6 C189.2,224.6 193.5,231.8 193.5,231.8 C193.5,231.8 195.9,230.3 195.9,230.3 C195.9,230.3 197.5,231.0 197.5,231.0 C197.5,231.0 198.4,232.5 198.4,232.5 C198.4,232.5 198.8,300.0 198.8,300.0 C198.8,300.0 199.5,456.0 199.5,456.0 C199.5,456.0 200.3,300.0 200.3,300.0 C200.3,300.0 201.3,293.0 201.3,293.0 C201.3,293.0 203.0,288.8 203.0,288.8 C203.0,288.8 205.0,291.0 205.0,291.0 C205.0,291.0 208.3,293.0 208.3,293.0 C208.3,293.0 209.8,291.6 209.8,291.6 C209.8,291.6 213.6,294.5 213.6,294.5 C213.6,294.5 216.0,292.1 216.0,292.1 C216.0,292.1 217.7,564.0 217.7,564.0 C217.7,564.0 218.5,564.0 218.5,564.0 C218.5,564.0 220.8,286.9 220.8,286.9 C220.8,286.9 222.0,290.0 222.0,290.0 C222.0,290.0 223.7,291.7 223.7,291.7 C223.7,291.7 226.6,292.0 226.6,292.0 C226.6,292.0 229.4,296.9 229.4,296.9 C229.4,296.9 229.9,306.5 229.9,306.5 C229.9,306.5 233.3,308.0 233.3,308.0 C233.3,308.0 235.2,301.7 235.2,301.7 C235.2,301.7 237.1,308.4 237.1,308.4 C237.1,308.4 239.5,333.3 239.5,333.3 C239.5,333.3 242.6,335.2 242.6,335.2 C242.6,335.2 243.1,345.0 243.1,345.0 C243.1,345.0 243.6,604.6 243.6,604.6 C243.6,604.6 245.2,604.6 245.2,604.6 C245.2,604.6 246.7,560.5 246.7,560.5 C246.7,560.5 247.7,604.6 247.7,604.6 C247.7,604.6 249.4,604.0 249.4,604.0 C249.4,604.0 250.8,560.0 250.8,560.0 C250.8,560.0 252.4,518.3 252.4,518.3 C252.4,518.3 253.4,573.0 253.4,573.0 C253.4,573.0 256.3,572.0 256.3,572.0 C256.3,572.0 257.7,565.8 257.7,565.8 C257.7,565.8 259.6,566.3 259.6,566.3 C259.6,566.3 261.1,556.7 261.1,556.7 C261.1,556.7 262.5,563.4 262.5,563.4 C262.5,563.4 264.9,590.2 264.9,590.2 C264.9,590.2 265.9,599.8 265.9,599.8 C265.9,599.8 266.4,601.2 266.8,601.2 C267.5,601.2 268.4,600.4 269.2,600.0 C270.1,599.5 270.7,598.6 271.6,598.4 C272.3,598.4 273.1,598.7 273.8,598.9 C274.6,599.1 275.3,599.4 276.1,599.7 C276.9,600.1 277.7,600.8 278.3,600.8 C279.2,600.4 279.8,599.0 280.5,598.0 C281.2,597.0 281.7,595.0 282.2,595.0 C282.8,595.2 282.8,597.9 283.6,598.9 C284.0,599.2 284.9,599.1 285.7,599.2 C286.4,599.3 287.0,599.7 287.7,599.7 C288.5,599.6 289.1,599.2 289.8,598.9 C290.6,598.5 291.3,597.9 292.1,597.7 C292.9,597.7 293.7,597.7 294.5,597.8 C295.2,598.0 295.7,598.6 296.4,598.8 C297.0,599.0 297.6,599.1 298.2,599.1 C298.9,599.0 299.4,598.3 300.1,598.2 C300.7,598.2 301.2,598.5 301.9,598.6 C302.5,598.7 303.1,598.7 303.8,598.9 C304.4,599.1 304.9,599.6 305.6,599.8 C306.2,600.1 306.8,600.3 307.4,600.3 C308.1,600.3 308.7,599.9 309.3,599.9 C309.9,599.9 310.6,600.3 311.1,600.3 C311.8,600.1 312.3,599.2 313.0,598.9 C313.6,598.8 314.2,598.8 314.8,598.8 C315.5,598.9 316.0,599.2 316.6,599.4 C317.3,599.6 317.8,599.7 318.5,599.8 C319.1,599.8 319.7,599.6 320.3,599.4 C321.0,599.3 321.5,598.8 322.2,598.8 C322.8,598.8 323.4,599.1 324.0,599.1 C324.7,599.0 325.2,598.2 325.9,598.2 C326.6,598.2 327.1,599.0 327.8,599.0 C328.5,599.0 329.1,598.3 329.7,598.3 C330.4,598.4 330.9,599.3 331.6,599.4 C332.2,599.4 332.8,598.9 333.5,598.8 C334.1,598.6 334.7,598.6 335.4,598.6 C336.1,598.6 336.7,598.6 337.3,598.6 C338.0,598.8 338.5,599.4 339.2,599.5 C339.9,599.5 340.5,599.0 341.1,598.9 C341.8,598.9 342.4,599.4 343.1,599.4 C343.7,599.4 344.3,599.0 345.0,599.0 C345.6,599.0 346.2,599.1 346.9,599.1 C347.6,599.1 348.2,598.8 348.9,598.7 C349.5,598.6 350.1,598.4 350.8,598.4 C351.5,598.4 352.2,598.8 352.8,598.8 C353.5,598.7 354.0,597.7 354.7,597.5 C355.4,597.5 356.0,597.6 356.7,597.8 C357.4,598.0 357.9,598.5 358.6,598.8 C359.2,599.0 359.8,599.0 360.5,599.0 C361.2,599.1 362.1,599.0 362.4,599.1 C363.4,600.9 363.4,605.6 364.0,605.6 C364.6,605.6 364.7,601.0 365.7,599.1 C366.0,598.5 367.1,598.8 367.8,598.5 C368.5,598.2 369.0,597.6 369.8,597.4 C370.5,597.4 371.2,597.4 371.9,597.6 C372.6,597.8 373.2,598.3 373.9,598.7 C374.7,599.3 375.1,600.1 375.9,600.5 C376.6,600.7 377.3,600.6 378.0,600.7 C378.7,600.8 379.3,600.9 380.0,600.9 C380.6,600.9 381.2,600.7 381.9,600.6 C382.6,600.4 383.2,599.9 383.9,599.9 C384.6,600.1 385.1,601.2 385.8,601.3 C386.5,601.3 387.1,601.0 387.8,600.7 C388.5,600.4 389.0,599.9 389.7,599.8 C390.3,599.8 390.9,600.0 391.6,600.0 C392.3,600.0 392.8,599.7 393.5,599.6 C394.2,599.4 394.7,599.1 395.4,598.9 C396.1,598.7 396.6,598.5 397.3,598.5 C398.0,598.5 398.5,598.6 399.2,598.7 C400.3,598.8 401.9,598.7 402.4,599.0 C403.6,600.8 403.3,604.9 404.3,606.0 C404.8,606.0 405.8,603.8 406.7,603.7 C407.7,603.7 409.3,605.6 409.8,605.6 C411.1,603.8 411.2,599.8 411.7,596.7 C412.6,590.9 412.8,585.8 413.6,580.0 C413.9,577.9 414.4,574.1 414.8,574.1 C415.2,574.1 415.7,577.9 416.0,580.0 C416.7,585.8 416.9,590.9 417.6,596.7 C417.9,599.2 417.8,602.8 418.7,603.7 C419.2,603.7 420.5,600.8 421.5,600.6 C422.2,600.6 422.8,602.0 423.4,602.9 C424.3,604.3 425.2,607.2 425.7,607.2 C426.6,605.9 426.4,600.8 427.3,597.5 C427.6,596.3 428.3,595.2 429.2,594.4 C429.8,593.9 430.7,593.8 431.5,593.8 C432.4,593.8 433.6,594.4 433.9,594.4 C434.9,592.0 434.7,588.3 435.1,585.0 C435.8,578.7 436.2,573.3 437.0,567.0 C437.3,565.1 437.8,561.7 438.2,561.7 C438.6,561.7 439.1,565.1 439.4,567.0 C440.1,571.9 440.3,576.2 440.9,581.1 C441.3,584.4 441.5,587.5 442.5,590.5 C442.8,591.4 444.2,591.6 444.8,592.4 C445.7,593.6 446.2,596.3 446.8,596.3 C447.6,595.9 447.8,592.4 448.7,590.5 C449.1,589.5 450.0,588.1 450.6,588.1 C451.5,588.4 452.5,590.5 453.0,592.0 C453.9,594.6 453.9,599.8 454.5,599.8 C455.2,599.6 455.7,594.0 456.5,590.9 C456.6,590.4 457.0,589.7 457.3,589.7 C458.1,590.1 458.6,591.8 459.6,592.4 C460.6,592.9 461.8,592.9 463.0,592.9 C463.6,592.9 464.2,592.4 464.8,592.4 C465.4,592.5 465.9,593.2 466.5,593.2 C467.1,593.2 467.6,592.3 468.2,592.2 C468.8,592.2 469.4,592.4 470.0,592.5 C470.9,592.6 471.6,592.6 472.5,592.6 C473.4,592.6 474.2,592.6 475.0,592.4 C476.2,592.0 477.0,590.9 478.2,590.6 C479.2,590.6 480.3,590.6 481.4,590.9 C482.2,591.1 482.8,591.5 483.4,591.9 C484.2,592.3 484.7,592.8 485.5,593.2 C486.2,593.4 486.8,593.4 487.6,593.6 C488.3,593.8 489.0,593.8 489.6,594.2 C490.6,594.8 491.5,595.6 492.1,596.6 C492.9,597.9 492.8,599.7 493.7,600.7 C494.1,600.7 494.9,600.6 495.6,600.5 C496.3,600.4 496.9,600.1 497.5,600.1 C498.2,600.2 499.1,601.0 499.4,601.0 C500.3,599.9 500.2,597.2 501.1,595.8 C501.4,595.7 502.4,595.8 503.1,595.7 C503.8,595.5 504.4,595.1 505.0,595.1 C505.7,595.2 506.3,596.1 507.0,596.1 C507.7,596.1 508.2,595.3 508.9,595.1 C509.6,595.0 510.7,595.1 510.9,595.0 C512.2,592.1 512.0,588.0 513.3,585.2 C513.5,585.2 514.6,585.4 515.2,585.4 C515.9,585.4 516.5,585.4 517.2,585.4 C517.8,585.3 518.4,585.4 519.1,585.2 C520.2,584.9 521.2,584.5 522.3,584.0 C523.5,583.5 524.5,582.4 525.6,582.4 C526.6,582.5 527.1,584.3 528.1,584.7 C528.8,584.7 529.7,584.4 530.5,584.3 C531.4,584.2 532.7,584.0 533.0,584.0 C534.1,586.5 533.5,590.5 534.6,593.3 C534.9,594.1 536.2,594.2 537.1,594.5 C537.7,594.6 538.4,594.6 539.1,594.6 C539.7,594.5 540.3,594.3 541.0,594.3 C541.7,594.4 542.3,594.9 543.0,594.9 C543.7,594.8 544.2,594.0 544.9,593.9 C545.6,593.9 546.4,594.1 546.9,594.5 C548.1,595.4 548.9,597.7 549.8,597.8 C550.5,597.8 550.9,595.9 551.6,595.0 C552.2,594.2 552.6,593.4 553.4,592.9 C554.1,592.4 555.0,592.5 555.8,592.1 C556.8,591.7 557.4,590.8 558.3,590.6 C558.9,590.6 559.6,591.1 560.2,591.1 C560.9,591.0 561.4,590.0 562.1,590.0 C562.7,590.0 563.4,590.6 564.0,590.9 C564.8,591.3 565.4,591.8 566.2,592.2 C567.0,592.6 567.6,592.9 568.4,593.3 C569.2,593.7 569.8,594.3 570.6,594.5 C571.2,594.5 571.8,594.1 572.4,594.1 C573.0,594.2 573.5,594.7 574.1,594.9 C574.7,595.1 575.3,595.1 575.9,595.2 C576.5,595.2 577.1,595.2 577.7,595.1 C578.3,594.9 578.8,594.3 579.4,594.2 C580.0,594.2 580.6,594.5 581.2,594.5 C582.4,594.1 583.3,593.1 584.5,592.5 C585.2,592.2 585.8,592.1 586.5,592.1 C587.3,592.1 587.9,592.2 588.6,592.5 C589.8,593.0 590.7,594.0 591.9,594.2 C592.5,594.2 593.0,593.4 593.7,593.3 C594.3,593.3 594.8,593.8 595.5,594.0 C596.1,594.2 596.6,594.4 597.2,594.4 C597.9,594.4 598.4,594.4 599.0,594.2 C599.7,594.0 600.2,593.3 600.8,593.3 C602.0,593.5 603.3,594.1 604.1,595.0 C605.1,596.1 604.9,598.0 605.8,599.1 C606.2,599.6 607.1,599.7 607.8,599.7 C608.5,599.7 609.0,598.9 609.7,598.8 C610.3,598.8 611.0,598.8 611.6,598.9 C612.3,599.0 613.3,599.1 613.6,599.1 C614.4,597.8 613.9,595.2 614.7,593.8 C615.0,593.5 616.1,593.8 616.8,593.5 C617.5,593.2 618.1,592.2 618.8,592.2 C619.5,592.2 620.1,593.3 620.8,593.8 C621.5,594.1 622.2,594.5 622.9,594.5 C623.5,594.5 624.1,593.8 624.7,593.7 C625.3,593.7 625.9,594.1 626.5,594.1 C627.1,594.1 627.7,593.9 628.3,593.8 C628.9,593.7 629.5,593.5 630.1,593.5 C630.7,593.6 631.4,594.2 631.9,594.2 C632.9,593.6 633.3,591.6 634.4,590.9 C634.9,590.9 635.7,591.3 636.5,591.3 C637.2,591.2 637.9,590.6 638.5,590.6 C639.3,590.9 639.7,592.2 640.5,592.7 C641.1,593.1 642.1,593.3 642.6,593.3 C643.7,592.5 644.2,590.2 645.3,589.6 C645.9,589.6 646.8,590.1 647.6,590.5 C648.4,590.8 649.1,591.4 649.9,591.7 C650.5,591.9 651.2,591.8 651.9,591.9 C652.5,592.0 653.2,592.2 653.8,592.2 C654.5,592.1 655.1,591.5 655.8,591.4 C656.4,591.4 657.1,591.6 657.7,591.7 C658.4,591.9 659.0,592.0 659.7,592.2 C660.3,592.3 660.9,592.6 661.4,592.6 C662.1,592.4 662.5,591.5 663.1,591.3 C663.7,591.3 664.2,591.4 664.9,591.4 C665.5,591.4 666.0,591.4 666.6,591.4 C667.2,591.4 667.7,591.3 668.3,591.1 C668.9,591.0 669.4,590.6 670.0,590.6 C670.8,590.6 671.4,591.1 672.2,591.3 C672.9,591.5 673.6,591.5 674.3,591.9 C675.1,592.2 675.7,593.1 676.5,593.3 C677.1,593.3 677.8,592.8 678.4,592.8 C679.1,592.9 679.6,593.7 680.3,593.9 C681.0,593.9 681.6,593.6 682.2,593.5 C682.9,593.4 683.6,593.3 684.2,593.3 C684.9,593.5 685.4,594.5 686.1,594.7 C686.7,594.7 687.5,594.6 688.0,594.2 C689.0,593.3 689.5,591.1 690.4,590.9 C691.2,590.9 692.0,593.2 692.9,593.3 C693.6,593.3 694.2,592.0 695.0,591.5 C695.6,591.2 696.3,590.9 697.0,590.9 C697.7,591.0 698.3,591.6 699.0,591.9 C699.7,592.3 700.2,592.9 700.9,593.0 C701.6,593.0 702.3,592.4 702.9,592.4 C703.7,592.7 704.1,593.9 704.8,594.2 C705.4,594.2 706.3,594.2 706.8,594.2 C707.5,594.7 708.1,596.6 708.4,596.6 C709.2,595.6 708.9,591.6 710.1,590.1 C710.7,590.1 712.4,590.1 713.3,590.1 C714.2,590.5 714.5,591.9 715.3,592.6 C716.0,593.2 716.7,593.8 717.4,593.8 C718.3,593.7 718.9,592.6 719.8,592.2 C720.6,591.9 721.5,591.7 722.3,591.7 C723.3,592.0 723.8,593.4 724.8,593.8 C725.8,593.8 727.4,593.8 728.1,593.8 C729.4,592.3 729.6,589.7 730.5,587.6 C731.0,586.4 731.5,584.3 732.2,584.3 C733.0,584.3 733.6,586.6 734.6,587.6 C735.1,588.1 735.8,588.3 736.5,588.4 C737.1,588.5 737.7,588.4 738.3,588.5 C739.0,588.6 739.5,588.7 740.1,588.9 C740.8,589.0 741.5,588.9 742.0,589.3 C742.7,589.8 743.0,591.2 743.6,591.2 C744.4,591.2 745.1,589.8 746.1,589.3 C746.6,589.2 747.2,589.2 747.8,589.2 C748.5,589.2 749.0,589.6 749.6,589.7 C750.2,589.7 750.7,589.7 751.3,589.7 C751.9,589.8 752.4,590.2 753.0,590.2 C753.6,590.2 754.2,590.0 754.8,590.0 C755.4,590.0 755.9,590.2 756.5,590.2 C757.1,590.2 757.7,589.7 758.3,589.7 C758.9,589.8 759.5,590.6 760.0,590.6 C760.9,590.3 761.5,588.8 762.4,588.4 C762.9,588.4 763.6,588.9 764.2,588.9 C764.8,588.9 765.4,588.6 766.0,588.6 C766.6,588.6 767.2,588.8 767.8,588.9 C768.4,589.1 769.0,589.6 769.6,589.6 C770.2,589.6 770.7,589.0 771.4,588.9 C772.1,588.8 772.7,588.8 773.3,588.8 C774.1,589.1 774.5,590.1 775.2,590.5 C775.8,590.5 776.5,590.3 777.1,590.3 C777.8,590.3 778.4,590.3 779.1,590.3 C779.8,590.5 780.3,590.7 781.0,590.9 C781.7,591.2 782.3,591.7 782.9,591.7 C783.7,591.6 784.2,590.7 784.9,590.2 C785.6,589.6 786.1,588.6 786.9,588.4 C787.5,588.4 788.1,589.0 788.8,589.0 C789.4,588.9 789.9,588.0 790.6,587.9 C791.2,587.9 791.8,588.5 792.4,588.5 C793.1,588.5 793.8,588.0 794.3,588.0 C795.4,588.8 795.7,590.8 796.8,591.7 C797.2,591.8 798.0,591.7 798.6,591.8 C799.3,592.0 799.8,592.4 800.5,592.8 C801.1,593.2 801.6,593.7 802.3,593.9 C802.9,594.2 803.5,594.2 804.1,594.2 C804.7,594.2 805.3,594.1 805.9,594.1 C806.6,594.2 807.2,594.7 807.7,594.7 C808.4,594.5 808.9,593.5 809.6,593.3 C810.1,593.3 810.8,593.4 811.4,593.4 C812.0,593.4 812.6,593.4 813.2,593.4 C813.9,593.6 814.4,594.4 815.0,594.5 C815.6,594.5 816.2,593.8 816.9,593.7 C817.5,593.7 818.0,594.1 818.7,594.1 C819.3,594.1 820.0,594.1 820.5,593.8 C821.4,593.1 821.8,592.1 822.5,591.2 C823.2,590.5 823.8,589.6 824.6,589.3 C825.3,589.3 826.0,589.5 826.8,589.8 C827.5,590.0 828.2,590.4 828.9,590.7 C829.7,590.9 830.8,590.7 831.1,591.2 C832.1,592.9 831.8,595.6 832.7,597.4 C833.0,597.6 833.9,597.6 834.5,597.6 C835.1,597.6 835.6,597.5 836.3,597.3 C836.9,597.2 837.4,597.0 838.0,596.9 C838.7,596.8 839.2,596.9 839.8,596.8 C840.5,596.7 841.0,596.2 841.6,596.1 C842.2,596.1 842.8,596.1 843.4,596.1 C844.0,596.0 844.5,595.5 845.1,595.5 C845.7,595.5 846.2,595.7 846.8,595.7 C847.4,595.8 848.0,595.7 848.6,595.8 C849.2,595.9 849.7,596.3 850.3,596.4 C850.9,596.4 851.4,596.3 852.0,596.2 C852.6,596.1 853.2,596.0 853.7,596.0 C854.4,596.1 854.9,596.9 855.5,596.9 C856.1,596.8 856.5,595.7 857.2,595.6 C857.7,595.6 858.5,596.1 858.9,596.1 C859.7,595.4 859.7,593.6 860.5,592.5 C861.1,591.6 862.1,590.8 863.0,590.6 C863.6,590.6 864.2,591.4 864.9,591.7 C865.5,592.0 866.2,592.0 866.8,592.4 C867.5,592.9 867.9,594.1 868.7,594.2 C869.7,594.2 870.9,593.3 872.0,593.3 C872.7,593.3 873.3,594.2 874.0,594.3 C874.7,594.3 875.3,594.1 876.0,594.1 C876.7,594.1 877.4,594.1 878.0,594.4 C878.8,594.7 879.3,595.8 880.0,595.8 C880.8,595.8 881.6,594.7 882.5,594.3 C883.3,593.9 884.0,593.4 884.9,593.3 C885.6,593.3 886.2,593.9 886.9,594.0 C887.5,594.0 888.2,593.9 888.8,593.9 C889.5,594.0 890.1,594.6 890.8,594.8 C891.4,594.8 892.1,594.7 892.7,594.7 C893.5,595.0 893.9,595.9 894.7,596.1 C895.4,596.1 896.2,596.1 896.9,596.0 C897.7,595.8 898.3,595.4 899.1,595.0 C899.9,594.7 900.9,594.9 901.3,594.2 C902.8,591.4 903.0,588.1 904.5,585.2 C905.0,584.2 906.0,583.6 907.0,583.0 C907.7,582.5 908.7,581.9 909.4,581.9 C910.3,582.2 910.7,583.5 911.5,584.4 C912.2,585.2 912.6,586.4 913.5,586.8 C914.5,586.8 916.1,586.8 916.8,586.8 C918.1,588.0 918.1,590.7 919.3,592.2 C919.6,592.2 920.5,592.2 921.1,592.2 C921.7,592.2 922.6,592.2 922.9,592.2 C924.2,593.8 924.5,596.5 925.8,598.2 C926.2,598.8 927.1,598.8 927.8,598.8 C928.6,598.8 929.2,598.1 929.9,598.1 C930.6,598.1 931.2,598.8 932.0,599.0 C932.6,599.1 933.3,599.1 934.0,599.1 C934.8,599.1 935.4,599.0 936.2,598.9 C936.9,598.8 937.6,598.7 938.3,598.6 C939.1,598.4 939.7,598.2 940.5,598.2 C941.4,598.2 942.1,598.2 943.0,598.5 C943.9,598.8 944.5,599.6 945.4,599.9 C946.0,600.1 946.5,600.1 947.2,600.1 C947.8,600.1 948.3,600.1 948.9,600.1 C949.6,600.0 950.5,600.1 950.7,599.9 C951.8,596.9 951.6,592.6 952.8,590.1 C953.1,590.1 954.1,590.9 954.8,591.0 C955.5,591.0 956.2,591.0 956.9,590.9 C957.8,590.6 958.4,589.8 959.3,589.6 C959.9,589.6 960.6,589.7 961.2,590.0 C961.9,590.4 962.3,591.3 963.1,591.6 C963.7,591.7 964.4,591.7 965.0,591.7 C965.7,591.6 966.3,591.1 967.0,591.1 C967.7,591.1 968.3,591.9 969.0,592.0 C969.6,592.0 970.2,591.4 970.9,591.3 C971.6,591.3 972.3,591.4 972.9,591.4 C973.6,591.3 974.5,590.6 974.9,590.6 C976.0,591.7 976.2,594.4 977.3,595.8 C977.7,595.8 978.5,595.8 979.1,595.8 C979.8,596.1 980.2,596.8 980.9,597.2 C981.5,597.5 982.4,597.8 982.7,597.8 C984.0,595.8 984.1,592.4 985.5,590.1 C986.0,589.3 987.1,588.9 988.0,588.9 C988.9,588.9 989.7,589.5 990.5,590.0 C991.4,590.7 991.9,592.1 992.9,592.5 C993.5,592.5 994.2,592.0 994.9,591.9 C995.6,591.9 996.4,592.2 996.9,592.2 C998.3,591.1 999.2,587.6 1000.2,587.6 C1001.2,587.7 1001.6,591.1 1002.7,592.5 C1003.1,592.9 1004.0,592.9 1004.6,592.9 C1005.3,592.7 1005.7,591.8 1006.4,591.6 C1007.0,591.6 1007.7,592.0 1008.3,592.1 C1009.0,592.2 1009.6,592.3 1010.2,592.3 C1010.9,592.1 1011.4,591.5 1012.1,591.4 C1012.7,591.4 1013.3,591.7 1013.9,591.7 C1014.6,591.6 1015.3,591.4 1015.8,590.9 C1017.1,589.7 1018.3,588.4 1019.0,586.8 C1019.7,585.0 1019.2,581.4 1019.8,581.1 C1020.3,581.1 1021.3,584.9 1022.3,585.2 C1023.0,585.2 1023.8,583.5 1024.8,582.7 C1025.5,582.0 1026.6,581.1 1027.2,581.1 C1028.6,582.2 1029.1,586.1 1030.5,587.3 C1031.0,587.3 1032.0,586.4 1032.7,585.8 C1033.5,585.0 1034.0,584.1 1034.8,583.3 C1035.5,582.7 1036.2,582.2 1037.0,581.9 C1037.7,581.9 1038.4,581.9 1039.0,582.0 C1039.8,582.3 1040.8,582.7 1041.1,583.5 C1042.2,586.1 1042.0,589.5 1043.2,591.7 C1043.5,591.7 1044.7,591.6 1045.4,591.4 C1046.2,591.1 1047.0,590.1 1047.6,590.1 C1048.5,590.6 1048.9,592.4 1049.7,593.5 C1050.3,594.6 1050.8,595.8 1051.7,596.6 C1052.3,597.1 1053.1,597.0 1053.9,597.3 C1054.7,597.5 1055.4,597.7 1056.1,598.1 C1056.9,598.5 1057.5,599.3 1058.3,599.4 C1059.0,599.4 1059.6,598.6 1060.3,598.6 C1061.0,598.7 1061.5,599.5 1062.2,599.8 C1062.9,600.1 1063.5,600.1 1064.2,600.2 C1064.9,600.2 1065.5,600.2 1066.1,600.2 C1066.9,600.0 1067.4,599.4 1068.1,599.4 C1068.7,599.4 1069.3,599.9 1070.0,600.0 C1070.6,600.0 1071.3,600.0 1071.8,600.0 C1072.6,599.7 1073.0,598.6 1073.7,598.6 C1074.4,598.6 1074.9,599.8 1075.6,599.8 C1076.2,599.8 1076.7,598.8 1077.5,598.6 C1078.1,598.6 1078.7,598.8 1079.3,598.8 C1080.0,598.8 1080.7,598.8 1081.2,598.7 C1082.5,597.7 1083.3,596.3 1084.5,595.0" stroke="rgba(0,0,0,0.74)" stroke-width="3"/>
<path d="M179.6,202.6 L186.8,202.6 L186.8,210.7 L197.8,210.7 L197.8,218.9 L208.8,218.9 L208.8,227.0 L224.6,227.0 L224.6,235.2 L233.2,235.2 L233.2,243.3" stroke="#f3b257" stroke-width="3" stroke-linecap="butt" stroke-dasharray="32 17.5"/>
<path d="M237.7,243.3 H268.1 M284.2,243.3 H315.0 M331.0,243.3 H361.2 M377.5,243.3 H407.9 M424.4,243.3 H447.4 V250.8 M463.6,251.5 H493.8 M510.4,251.5 H540.6 M549.6,259.6 H579.4 M595.9,259.6 H626.5 M641.9,259.6 H655.5 V267.7 H665.6 M681.7,267.7 H712.3 M728.4,267.7 H757.8 V269.2 M767.7,275.9 H798.5 M814.4,275.9 H845.0 M861.1,275.9 H871.2 V284.0 H883.9 M900.4,284.0 H931 M947.1,284.0 H978.3 V285.5 M986.4,292.2 H1017.0 M1033.1,292.2 H1063.7 M1079.8,292.2 H1084.7 V299.7" stroke="#f3b257" stroke-width="3" stroke-linecap="butt" stroke-linejoin="miter"/>
<path d="M179.8,688.6 C179.8,688.6 181.6,692.0 181.6,692.0 C181.6,692.0 182.6,706.0 182.6,706.0 C182.6,706.0 182.9,962.0 182.9,962.0 C182.9,962.0 183.6,971.0 183.6,971.0 C183.6,971.0 185.5,973.0 185.5,973.0 C185.5,973.0 188.2,971.5 188.2,971.5 C188.2,971.5 189.6,966.0 189.6,966.0 C189.6,966.0 190.8,967.3 190.8,967.3 C190.8,967.3 193.0,965.8 193.0,965.8 C193.0,965.8 196.6,966.2 196.6,966.2 C196.6,966.2 199.0,967.0 199.0,967.0 C199.0,967.0 199.7,741.8 199.7,741.8 C199.7,741.8 200.6,960.0 200.6,960.0 C200.6,960.0 201.8,962.0 201.8,962.0 C201.8,962.0 202.4,908.0 202.4,908.0 C202.4,908.0 203.0,908.8 203.0,908.8 C203.0,908.8 208.8,903.7 208.8,903.7 C208.8,903.7 216.0,908.8 216.0,908.8 C216.0,908.8 217.5,905.0 217.5,905.0 C217.5,905.0 219.0,912.0 219.0,912.0 C219.0,912.0 220.3,914.5 220.3,914.5 C220.3,914.5 222.0,908.5 222.0,908.5 C222.0,908.5 223.9,909.5 223.9,909.5 C223.9,909.5 228.2,909.5 228.2,909.5 C228.2,909.5 229.0,895.0 229.0,895.0 C229.0,895.0 229.6,876.4 229.6,876.4 C229.6,876.4 231.8,878.6 231.8,878.6 C231.8,878.6 236.1,879.3 236.1,879.3 C236.1,879.3 239.0,888.6 239.0,888.6 C239.0,888.6 241.9,891.5 241.9,891.5 C241.9,891.5 243.0,880.0 243.0,880.0 C243.0,880.0 243.6,640.0 243.6,640.0 C243.6,640.0 245.0,628.0 245.0,628.0 C245.0,628.0 247.0,625.0 247.0,625.0 C247.0,625.0 249.2,636.0 249.2,636.0 C249.2,636.0 249.8,670.0 249.8,670.0 C249.8,670.0 250.8,683.0 250.8,683.0 C250.8,683.0 252.5,683.0 252.5,683.0 C252.5,683.0 253.6,670.0 253.6,670.0 C253.6,670.0 254.2,616.0 254.2,616.0 C254.2,616.0 256.0,615.0 256.0,615.0 C256.0,615.0 259.0,618.0 259.0,618.0 C259.0,618.0 260.5,632.0 260.5,632.0 C260.5,632.0 262.0,633.0 262.0,633.0 C262.0,633.0 264.0,618.0 264.0,618.0 C264.0,618.0 265.9,612.3 265.9,612.3 C265.9,612.3 269.0,613.6 270.7,614.2 C271.3,614.4 271.9,614.6 272.5,614.7 C273.1,614.7 273.7,614.5 274.3,614.5 C275.0,614.5 275.5,614.7 276.2,614.7 C276.8,614.7 277.4,614.6 278.0,614.6 C278.6,614.8 279.1,615.3 279.8,615.4 C280.5,615.4 281.1,615.2 281.8,615.2 C282.5,615.3 283.0,615.6 283.7,615.7 C284.4,615.8 285.0,615.9 285.7,615.9 C286.4,615.8 286.9,615.4 287.6,615.4 C288.3,615.4 288.9,615.4 289.6,615.4 C290.3,615.5 290.8,615.9 291.5,616.1 C292.1,616.3 292.7,616.5 293.3,616.5 C294.0,616.5 294.5,616.1 295.2,616.0 C295.9,616.0 296.5,616.0 297.1,616.2 C297.8,616.3 298.3,616.8 299.0,616.9 C299.6,616.9 300.2,616.9 300.8,616.9 C301.5,617.1 302.0,617.7 302.7,617.9 C303.3,617.9 303.9,617.8 304.5,617.8 C305.2,618.0 305.7,618.7 306.3,618.8 C306.9,618.8 307.5,618.4 308.1,618.2 C308.8,618.0 309.3,617.7 309.9,617.7 C310.6,617.8 311.1,618.7 311.8,618.8 C312.4,618.8 312.9,618.0 313.6,618.0 C314.2,618.0 314.7,618.9 315.4,618.9 C316.0,618.9 316.5,618.2 317.2,618.2 C317.8,618.2 318.4,618.6 319.0,618.7 C319.7,618.9 320.3,619.0 321.0,619.0 C321.7,618.9 322.2,618.4 323.0,618.1 C323.6,617.8 324.3,617.5 324.9,617.5 C325.7,617.6 326.2,618.4 326.9,618.5 C327.6,618.5 328.7,617.9 328.9,617.9 C329.7,620.8 328.9,625.3 329.7,628.5 C329.9,629.3 331.3,629.3 332.2,629.3 C332.9,629.3 333.4,628.8 334.1,628.7 C334.8,628.6 335.3,628.6 336.0,628.5 C336.7,628.4 337.2,628.2 337.9,628.2 C338.6,628.2 339.2,628.8 339.8,628.8 C340.5,628.7 341.0,627.6 341.7,627.4 C342.3,627.4 343.0,627.4 343.6,627.7 C344.3,628.0 344.8,628.7 345.6,629.0 C346.2,629.1 346.9,629.0 347.5,629.1 C348.3,629.4 348.8,630.0 349.5,630.6 C350.2,631.1 350.7,631.8 351.4,632.2 C352.0,632.5 352.7,632.4 353.4,632.6 C354.1,632.8 354.8,633.1 355.4,633.1 C356.2,633.0 356.8,632.1 357.5,632.1 C358.2,632.1 358.8,633.1 359.6,633.2 C360.2,633.2 361.1,633.1 361.6,632.6 C362.7,631.5 363.3,628.5 364.0,628.5 C365.0,628.8 365.4,632.3 366.5,634.2 C367.2,635.5 368.0,636.8 369.0,637.5 C369.5,637.5 370.2,637.0 370.8,636.9 C371.4,636.9 372.0,636.9 372.6,636.9 C373.3,636.8 373.8,636.4 374.5,636.2 C375.1,636.0 375.7,636.0 376.3,635.9 C377.0,635.8 377.6,635.7 378.4,635.7 C379.1,635.7 379.7,635.9 380.4,636.1 C381.1,636.2 381.8,636.2 382.4,636.5 C383.2,636.7 383.9,637.0 384.5,637.5 C385.8,638.8 386.6,641.3 387.8,641.6 C388.6,641.6 389.2,639.7 390.2,639.1 C390.7,639.1 391.3,639.1 392.0,639.1 C392.6,639.2 393.1,639.2 393.7,639.3 C394.3,639.5 394.8,640.0 395.5,640.0 C396.1,640.0 396.6,639.6 397.2,639.5 C397.8,639.4 398.4,639.2 399.0,639.2 C399.6,639.2 400.1,639.5 400.7,639.6 C401.4,639.8 402.2,640.0 402.5,640.0 C403.4,638.7 403.4,635.2 404.3,634.8 C404.9,634.8 405.7,637.3 406.7,637.9 C407.2,637.9 408.0,637.5 408.6,637.3 C409.3,637.1 410.2,636.8 410.6,636.8 C411.7,637.9 412.2,640.0 412.9,641.8 C413.9,644.2 414.8,648.8 415.6,648.8 C416.7,648.2 417.0,641.2 418.3,638.7 C418.6,638.7 419.6,639.5 420.2,640.0 C421.0,640.6 421.9,641.0 422.2,641.8 C423.3,644.9 423.5,647.9 424.2,651.2 C425.1,655.5 425.9,663.6 426.9,663.6 C427.9,663.5 428.5,654.6 430.0,650.4 C430.2,650.0 431.3,650.0 431.9,650.0 C432.6,650.0 433.6,650.0 433.9,650.4 C435.1,653.0 435.1,656.1 436.2,659.0 C437.0,661.3 438.6,665.2 439.4,665.2 C440.8,664.2 441.0,657.9 442.5,654.3 C443.2,652.7 444.4,651.6 445.6,650.4 C446.1,649.8 447.1,649.2 447.5,649.2 C448.4,649.9 449.0,651.9 449.5,653.5 C450.8,657.5 451.3,661.2 452.6,665.2 C453.4,667.7 455.1,672.2 455.7,672.2 C457.0,670.4 457.0,662.5 458.0,657.4 C458.4,655.5 458.5,653.3 459.6,652.2 C460.3,652.2 461.8,652.2 463.0,652.4 C463.6,652.5 464.2,652.9 464.8,652.9 C465.4,652.8 465.9,652.1 466.5,652.1 C467.1,652.1 467.6,653.0 468.2,653.1 C468.8,653.1 469.4,652.9 470.0,652.8 C470.9,652.7 471.6,652.7 472.5,652.7 C473.4,652.7 474.2,652.7 475.0,652.9 C476.2,653.3 477.0,654.4 478.2,654.7 C479.2,654.7 480.3,654.7 481.4,654.4 C482.2,654.2 482.8,653.8 483.4,653.4 C484.2,653.0 484.7,652.5 485.5,652.1 C486.2,651.9 486.8,651.9 487.6,651.7 C488.3,651.5 489.0,651.5 489.6,651.1 C490.6,650.5 491.5,649.7 492.1,648.7 C492.9,647.4 492.8,645.6 493.7,644.6 C494.1,644.6 494.9,644.7 495.6,644.8 C496.3,644.9 496.9,645.2 497.5,645.2 C498.2,645.1 499.1,644.3 499.4,644.3 C500.3,645.4 500.2,648.1 501.1,649.5 C501.4,649.6 502.4,649.5 503.1,649.6 C503.8,649.8 504.4,650.2 505.0,650.2 C505.7,650.1 506.3,649.2 507.0,649.2 C507.7,649.2 508.2,650.0 508.9,650.2 C509.6,650.3 510.7,650.2 510.9,650.3 C512.2,653.2 512.0,657.3 513.3,660.1 C513.5,660.1 514.6,659.9 515.2,659.9 C515.9,659.9 516.5,659.9 517.2,659.9 C517.8,660.0 518.4,659.9 519.1,660.1 C520.2,660.4 521.2,660.8 522.3,661.3 C523.5,661.8 524.5,662.9 525.6,662.9 C526.6,662.8 527.1,661.0 528.1,660.6 C528.8,660.6 529.7,660.9 530.5,661.0 C531.4,661.1 532.7,661.3 533.0,661.3 C534.1,658.8 533.5,654.8 534.6,652.0 C534.9,651.2 536.2,651.1 537.1,650.8 C537.7,650.7 538.4,650.7 539.1,650.7 C539.7,650.8 540.3,651.0 541.0,651.0 C541.7,650.9 542.3,650.4 543.0,650.4 C543.7,650.5 544.2,651.3 544.9,651.4 C545.6,651.4 546.4,651.2 546.9,650.8 C548.1,649.9 548.9,647.6 549.8,647.5 C550.5,647.5 550.9,649.4 551.6,650.3 C552.2,651.1 552.6,651.9 553.4,652.4 C554.1,652.9 555.0,652.8 555.8,653.2 C556.8,653.6 557.4,654.5 558.3,654.7 C558.9,654.7 559.6,654.2 560.2,654.2 C560.9,654.3 561.4,655.3 562.1,655.3 C562.7,655.3 563.4,654.7 564.0,654.4 C564.8,654.0 565.4,653.5 566.2,653.1 C567.0,652.7 567.6,652.4 568.4,652.0 C569.2,651.6 569.8,651.0 570.6,650.8 C571.2,650.8 571.8,651.2 572.4,651.2 C573.0,651.1 573.5,650.6 574.1,650.4 C574.7,650.2 575.3,650.2 575.9,650.1 C576.5,650.1 577.1,650.1 577.7,650.2 C578.3,650.4 578.8,651.0 579.4,651.1 C580.0,651.1 580.6,650.8 581.2,650.8 C582.4,651.2 583.3,652.2 584.5,652.8 C585.2,653.1 585.8,653.2 586.5,653.2 C587.3,653.2 587.9,653.1 588.6,652.8 C589.8,652.3 590.7,651.3 591.9,651.1 C592.5,651.1 593.0,651.9 593.7,652.0 C594.3,652.0 594.8,651.5 595.5,651.3 C596.1,651.1 596.6,650.9 597.2,650.9 C597.9,650.9 598.4,650.9 599.0,651.1 C599.7,651.3 600.2,652.0 600.8,652.0 C602.0,651.8 603.3,651.2 604.1,650.3 C605.1,649.2 604.9,647.3 605.8,646.2 C606.2,645.7 607.1,645.6 607.8,645.6 C608.5,645.6 609.0,646.4 609.7,646.5 C610.3,646.5 611.0,646.5 611.6,646.4 C612.3,646.3 613.3,646.2 613.6,646.2 C614.4,647.5 613.9,650.1 614.7,651.5 C615.0,651.8 616.1,651.5 616.8,651.8 C617.5,652.1 618.1,653.1 618.8,653.1 C619.5,653.1 620.1,652.0 620.8,651.5 C621.5,651.2 622.2,650.8 622.9,650.8 C623.5,650.8 624.1,651.5 624.7,651.6 C625.3,651.6 625.9,651.2 626.5,651.2 C627.1,651.2 627.7,651.4 628.3,651.5 C628.9,651.6 629.5,651.8 630.1,651.8 C630.7,651.7 631.4,651.1 631.9,651.1 C632.9,651.7 633.3,653.7 634.4,654.4 C634.9,654.4 635.7,654.0 636.5,654.0 C637.2,654.1 637.9,654.7 638.5,654.7 C639.3,654.4 639.7,653.1 640.5,652.6 C641.1,652.2 642.1,652.0 642.6,652.0 C643.7,652.8 644.2,655.1 645.3,655.7 C645.9,655.7 646.8,655.2 647.6,654.8 C648.4,654.5 649.1,653.9 649.9,653.6 C650.5,653.4 651.2,653.5 651.9,653.4 C652.5,653.3 653.2,653.1 653.8,653.1 C654.5,653.2 655.1,653.8 655.8,653.9 C656.4,653.9 657.1,653.7 657.7,653.6 C658.4,653.4 659.0,653.3 659.7,653.1 C660.3,653.0 660.9,652.7 661.4,652.7 C662.1,652.9 662.5,653.8 663.1,654.0 C663.7,654.0 664.2,653.9 664.9,653.9 C665.5,653.9 666.0,653.9 666.6,653.9 C667.2,653.9 667.7,654.0 668.3,654.2 C668.9,654.3 669.4,654.7 670.0,654.7 C670.8,654.7 671.4,654.2 672.2,654.0 C672.9,653.8 673.6,653.8 674.3,653.4 C675.1,653.1 675.7,652.2 676.5,652.0 C677.1,652.0 677.8,652.5 678.4,652.5 C679.1,652.4 679.6,651.6 680.3,651.4 C681.0,651.4 681.6,651.7 682.2,651.8 C682.9,651.9 683.6,652.0 684.2,652.0 C684.9,651.8 685.4,650.8 686.1,650.6 C686.7,650.6 687.5,650.7 688.0,651.1 C689.0,652.0 689.5,654.2 690.4,654.4 C691.2,654.4 692.0,652.1 692.9,652.0 C693.6,652.0 694.2,653.3 695.0,653.8 C695.6,654.1 696.3,654.4 697.0,654.4 C697.7,654.3 698.3,653.7 699.0,653.4 C699.7,653.0 700.2,652.4 700.9,652.3 C701.6,652.3 702.3,652.9 702.9,652.9 C703.7,652.6 704.1,651.4 704.8,651.1 C705.4,651.1 706.3,651.1 706.8,651.1 C707.5,650.6 708.1,648.7 708.4,648.7 C709.2,649.7 708.9,653.7 710.1,655.2 C710.7,655.2 712.4,655.2 713.3,655.2 C714.2,654.8 714.5,653.4 715.3,652.7 C716.0,652.1 716.7,651.5 717.4,651.5 C718.3,651.6 718.9,652.7 719.8,653.1 C720.6,653.4 721.5,653.6 722.3,653.6 C723.3,653.3 723.8,651.9 724.8,651.5 C725.8,651.5 727.4,651.5 728.1,651.5 C729.4,653.0 729.6,655.6 730.5,657.7 C731.0,658.9 731.5,661.0 732.2,661.0 C733.0,661.0 733.6,658.7 734.6,657.7 C735.1,657.2 735.8,657.0 736.5,656.9 C737.1,656.8 737.7,656.9 738.3,656.8 C739.0,656.7 739.5,656.6 740.1,656.4 C740.8,656.3 741.5,656.4 742.0,656.0 C742.7,655.5 743.0,654.1 743.6,654.1 C744.4,654.1 745.1,655.5 746.1,656.0 C746.6,656.1 747.2,656.1 747.8,656.1 C748.5,656.1 749.0,655.7 749.6,655.6 C750.2,655.6 750.7,655.6 751.3,655.6 C751.9,655.5 752.4,655.1 753.0,655.1 C753.6,655.1 754.2,655.3 754.8,655.3 C755.4,655.3 755.9,655.1 756.5,655.1 C757.1,655.1 757.7,655.6 758.3,655.6 C758.9,655.5 759.5,654.7 760.0,654.7 C760.9,655.0 761.5,656.5 762.4,656.9 C762.9,656.9 763.6,656.4 764.2,656.4 C764.8,656.4 765.4,656.7 766.0,656.7 C766.6,656.7 767.2,656.5 767.8,656.4 C768.4,656.2 769.0,655.7 769.6,655.7 C770.2,655.7 770.7,656.3 771.4,656.4 C772.1,656.5 772.7,656.5 773.3,656.5 C774.1,656.2 774.5,655.2 775.2,654.8 C775.8,654.8 776.5,655.0 777.1,655.0 C777.8,655.0 778.4,655.0 779.1,655.0 C779.8,654.8 780.3,654.6 781.0,654.4 C781.7,654.1 782.3,653.6 782.9,653.6 C783.7,653.7 784.2,654.6 784.9,655.1 C785.6,655.7 786.1,656.7 786.9,656.9 C787.5,656.9 788.1,656.3 788.8,656.3 C789.4,656.4 789.9,657.3 790.6,657.4 C791.2,657.4 791.8,656.8 792.4,656.8 C793.1,656.8 793.8,657.3 794.3,657.3 C795.4,656.5 795.7,654.5 796.8,653.6 C797.2,653.5 798.0,653.6 798.6,653.5 C799.3,653.3 799.8,652.9 800.5,652.5 C801.1,652.1 801.6,651.6 802.3,651.4 C802.9,651.1 803.5,651.1 804.1,651.1 C804.7,651.1 805.3,651.2 805.9,651.2 C806.6,651.1 807.2,650.6 807.7,650.6 C808.4,650.8 808.9,651.8 809.6,652.0 C810.1,652.0 810.8,651.9 811.4,651.9 C812.0,651.9 812.6,651.9 813.2,651.9 C813.9,651.7 814.4,650.9 815.0,650.8 C815.6,650.8 816.2,651.5 816.9,651.6 C817.5,651.6 818.0,651.2 818.7,651.2 C819.3,651.2 820.0,651.2 820.5,651.5 C821.4,652.2 821.8,653.2 822.5,654.1 C823.2,654.8 823.8,655.7 824.6,656.0 C825.3,656.0 826.0,655.8 826.8,655.5 C827.5,655.3 828.2,654.9 828.9,654.6 C829.7,654.4 830.8,654.6 831.1,654.1 C832.1,652.4 831.8,649.7 832.7,647.9 C833.0,647.7 833.9,647.7 834.5,647.7 C835.1,647.7 835.6,647.8 836.3,648.0 C836.9,648.1 837.4,648.3 838.0,648.4 C838.7,648.5 839.2,648.4 839.8,648.5 C840.5,648.6 841.0,649.1 841.6,649.2 C842.2,649.2 842.8,649.2 843.4,649.2 C844.0,649.3 844.5,649.8 845.1,649.8 C845.7,649.8 846.2,649.6 846.8,649.6 C847.4,649.5 848.0,649.6 848.6,649.5 C849.2,649.4 849.7,649.0 850.3,648.9 C850.9,648.9 851.4,649.0 852.0,649.1 C852.6,649.2 853.2,649.3 853.7,649.3 C854.4,649.2 854.9,648.4 855.5,648.4 C856.1,648.5 856.5,649.6 857.2,649.7 C857.7,649.7 858.5,649.2 858.9,649.2 C859.7,649.9 859.7,651.7 860.5,652.8 C861.1,653.7 862.1,654.5 863.0,654.7 C863.6,654.7 864.2,653.9 864.9,653.6 C865.5,653.3 866.2,653.3 866.8,652.9 C867.5,652.4 867.9,651.2 868.7,651.1 C869.7,651.1 870.9,652.0 872.0,652.0 C872.7,652.0 873.3,651.1 874.0,651.0 C874.7,651.0 875.3,651.2 876.0,651.2 C876.7,651.2 877.4,651.2 878.0,650.9 C878.8,650.6 879.3,649.5 880.0,649.5 C880.8,649.5 881.6,650.6 882.5,651.0 C883.3,651.4 884.0,651.9 884.9,652.0 C885.6,652.0 886.2,651.4 886.9,651.3 C887.5,651.3 888.2,651.4 888.8,651.4 C889.5,651.3 890.1,650.7 890.8,650.5 C891.4,650.5 892.1,650.6 892.7,650.6 C893.5,650.3 893.9,649.4 894.7,649.2 C895.4,649.2 896.2,649.2 896.9,649.3 C897.7,649.5 898.3,649.9 899.1,650.3 C899.9,650.6 900.9,650.4 901.3,651.1 C902.8,653.9 903.0,657.2 904.5,660.1 C905.0,661.1 906.0,661.7 907.0,662.3 C907.7,662.8 908.7,663.4 909.4,663.4 C910.3,663.1 910.7,661.8 911.5,660.9 C912.2,660.1 912.6,658.9 913.5,658.5 C914.5,658.5 916.1,658.5 916.8,658.5 C918.1,657.3 918.1,654.6 919.3,653.1 C919.6,653.1 920.5,653.1 921.1,653.1 C921.7,653.1 922.6,653.1 922.9,653.1 C924.2,651.5 924.5,648.8 925.8,647.1 C926.2,646.5 927.1,646.5 927.8,646.5 C928.6,646.5 929.2,647.2 929.9,647.2 C930.6,647.2 931.2,646.5 932.0,646.3 C932.6,646.2 933.3,646.2 934.0,646.2 C934.8,646.2 935.4,646.3 936.2,646.4 C936.9,646.5 937.6,646.6 938.3,646.7 C939.1,646.9 939.7,647.1 940.5,647.1 C941.4,647.1 942.1,647.1 943.0,646.8 C943.9,646.5 944.5,645.7 945.4,645.4 C946.0,645.2 946.5,645.2 947.2,645.2 C947.8,645.2 948.3,645.2 948.9,645.2 C949.6,645.3 950.5,645.2 950.7,645.4 C951.8,648.4 951.6,652.7 952.8,655.2 C953.1,655.2 954.1,654.4 954.8,654.3 C955.5,654.3 956.2,654.3 956.9,654.4 C957.8,654.7 958.4,655.5 959.3,655.7 C959.9,655.7 960.6,655.6 961.2,655.3 C961.9,654.9 962.3,654.0 963.1,653.7 C963.7,653.6 964.4,653.6 965.0,653.6 C965.7,653.7 966.3,654.2 967.0,654.2 C967.7,654.2 968.3,653.4 969.0,653.3 C969.6,653.3 970.2,653.9 970.9,654.0 C971.6,654.0 972.3,653.9 972.9,653.9 C973.6,654.0 974.5,654.7 974.9,654.7 C976.0,653.6 976.2,650.9 977.3,649.5 C977.7,649.5 978.5,649.5 979.1,649.5 C979.8,649.2 980.2,648.5 980.9,648.1 C981.5,647.8 982.4,647.5 982.7,647.5 C984.0,649.5 984.1,652.9 985.5,655.2 C986.0,656.0 987.1,656.4 988.0,656.4 C988.9,656.4 989.7,655.8 990.5,655.3 C991.4,654.6 991.9,653.2 992.9,652.8 C993.5,652.8 994.2,653.3 994.9,653.4 C995.6,653.4 996.4,653.1 996.9,653.1 C998.3,654.2 999.2,657.7 1000.2,657.7 C1001.2,657.6 1001.6,654.2 1002.7,652.8 C1003.1,652.4 1004.0,652.4 1004.6,652.4 C1005.3,652.6 1005.7,653.5 1006.4,653.7 C1007.0,653.7 1007.7,653.3 1008.3,653.2 C1009.0,653.1 1009.6,653.0 1010.2,653.0 C1010.9,653.2 1011.4,653.8 1012.1,653.9 C1012.7,653.9 1013.3,653.6 1013.9,653.6 C1014.6,653.7 1015.3,653.9 1015.8,654.4 C1017.1,655.6 1018.3,656.9 1019.0,658.5 C1019.7,660.3 1019.2,663.9 1019.8,664.2 C1020.3,664.2 1021.3,660.4 1022.3,660.1 C1023.0,660.1 1023.8,661.8 1024.8,662.6 C1025.5,663.3 1026.6,664.2 1027.2,664.2 C1028.6,663.1 1029.1,659.2 1030.5,658.0 C1031.0,658.0 1032.0,658.9 1032.7,659.5 C1033.5,660.3 1034.0,661.2 1034.8,662.0 C1035.5,662.6 1036.2,663.1 1037.0,663.4 C1037.7,663.4 1038.4,663.4 1039.0,663.3 C1039.8,663.0 1040.8,662.6 1041.1,661.8 C1042.2,659.2 1042.0,655.8 1043.2,653.6 C1043.5,653.6 1044.7,653.7 1045.4,653.9 C1046.2,654.2 1047.0,655.2 1047.6,655.2 C1048.5,654.7 1048.9,652.9 1049.7,651.8 C1050.3,650.7 1050.8,649.5 1051.7,648.7 C1052.3,648.2 1053.1,648.3 1053.9,648.0 C1054.7,647.8 1055.4,647.6 1056.1,647.2 C1056.9,646.8 1057.5,646.0 1058.3,645.9 C1059.0,645.9 1059.6,646.7 1060.3,646.7 C1061.0,646.6 1061.5,645.8 1062.2,645.5 C1062.9,645.2 1063.5,645.2 1064.2,645.1 C1064.9,645.1 1065.5,645.1 1066.1,645.1 C1066.9,645.3 1067.4,645.9 1068.1,645.9 C1068.7,645.9 1069.3,645.4 1070.0,645.3 C1070.6,645.3 1071.3,645.3 1071.8,645.3 C1072.6,645.6 1073.0,646.7 1073.7,646.7 C1074.4,646.7 1074.9,645.5 1075.6,645.5 C1076.2,645.5 1076.7,646.5 1077.5,646.7 C1078.1,646.7 1078.7,646.5 1079.3,646.5 C1080.0,646.5 1080.7,646.5 1081.2,646.6 C1082.5,647.6 1083.3,649.0 1084.5,650.3" stroke="rgba(240,150,20,0.72)" stroke-width="2.8"/>
<path d="M179.6,568.6 L181.8,568.8 L184.0,568.9 L185.7,568.7 L187.5,569.1 L189.2,569.6 L191.6,571.9 L194.0,574.9 L196.0,574.6 L198.0,574.0 L199.8,573.4 L201.6,572.9 L204.5,576.3 L206.9,575.3 L209.3,575.3 L211.2,576.6 L213.1,578.2 L215.0,579.2 L218.0,580.1 L219.8,580.1 L221.6,579.2 L223.3,578.7 L225.1,578.2 L227.1,579.6 L229.0,581.0 L232.3,584.0 L234.2,582.1 L236.1,580.1 L238.1,581.5 L240.0,582.5 L241.9,582.6 L243.8,584.0 L245.7,583.9 L247.7,584.0 L249.6,584.4 L251.8,584.9 L254.1,585.3 L256.3,586.3 L258.2,586.9 L260.1,588.9 L262.0,589.2 L263.9,589.2 L265.9,589.2 L267.8,589.2 L269.7,589.1 L271.6,589.6 L273.5,590.9 L275.4,591.1 L277.6,591.4 L279.8,590.9 L282.2,590.3 L284.7,590.1 L286.5,589.8 L288.3,591.3 L290.1,590.7 L291.9,591.8 L293.7,592.6 L295.5,593.0 L297.3,593.2 L299.1,592.9 L300.9,593.5 L302.7,594.2 L304.5,594.3 L306.3,594.7 L308.2,596.0 L310.0,596.4 L311.8,597.1 L313.6,597.2 L315.5,597.8 L317.3,597.7 L319.1,598.2 L320.9,599.3 L322.6,598.3 L324.4,599.1 L326.2,600.4 L327.9,599.7 L329.7,600.7 L331.3,604.8 L333.1,604.7 L334.8,605.0 L336.6,604.8 L338.3,606.0 L340.1,605.3 L341.8,606.7 L343.6,606.4 L345.5,607.3 L347.4,607.1 L349.3,608.6 L351.2,608.9 L353.1,609.3 L355.0,609.7 L356.9,610.2 L358.7,611.3 L360.6,611.7 L362.5,611.8 L364.4,612.1 L366.2,613.2 L368.1,613.0 L370.0,613.0 L371.8,613.4 L373.7,613.3 L375.6,614.4 L377.5,615.2 L379.3,614.7 L381.2,615.4 L383.1,616.0 L385.1,616.6 L387.0,617.0 L388.6,619.5 L390.2,617.0 L392.1,616.5 L393.9,615.6 L395.8,615.6 L397.6,615.4 L399.7,616.3 L401.7,616.4 L403.8,616.2 L405.8,617.0 L408.0,618.0 L410.1,618.0 L412.3,619.5 L414.3,619.9 L416.2,620.2 L418.2,620.6 L420.1,620.3 L422.1,621.2 L424.3,622.1 L426.5,622.4 L428.7,622.2 L432.0,622.5" stroke="rgba(60,240,30,0.68)" stroke-width="3.4"/>
<path d="M180.8,622.0 C180.8,622.0 181.0,646.0 181.0,646.0 C181.0,646.0 181.7,650.5 181.7,650.5 C181.7,650.5 182.4,646.0 182.4,646.0 C182.4,646.0 182.6,622.0 182.6,622.0 C182.6,622.0 186.5,621.0 186.5,621.0 C186.5,621.0 187.6,623.0 187.6,623.0 C187.6,623.0 188.2,627.7 188.2,627.7 C188.2,627.7 188.9,623.0 188.9,623.0 C188.9,623.0 189.8,621.5 189.8,621.5 C189.8,621.5 194.0,620.5 194.0,620.5 C194.0,620.5 198.2,621.0 198.2,621.0 C198.2,621.0 199.8,623.0 199.8,623.0 C199.8,623.0 200.4,660.0 200.4,660.0 C200.4,660.0 200.9,684.8 200.9,684.8 C200.9,684.8 201.4,660.0 201.4,660.0 C201.4,660.0 202.0,623.0 202.0,623.0 C202.0,623.0 203.4,621.5 203.4,621.5 C203.4,621.5 206.0,620.0 206.0,620.0 C206.0,620.0 209.5,620.5 209.5,620.5 C209.5,620.5 212.0,620.5 212.0,620.5 C212.0,620.5 215.0,621.5 215.0,621.5 C215.0,621.5 215.5,640.0 215.5,640.0 C215.5,640.0 216.9,888.0 216.9,888.0 C216.9,888.0 217.4,888.0 217.4,888.0 C217.4,888.0 219.4,577.7 219.4,577.7 C219.4,577.7 220.6,605.0 220.6,605.0 C220.6,605.0 222.0,621.5 222.0,621.5 C222.0,621.5 225.0,623.5 225.0,623.5 C225.0,623.5 227.5,621.0 227.5,621.0 C227.5,621.0 229.0,602.7 229.0,602.7 C229.0,602.7 232.3,601.2 232.3,601.2 C232.3,601.2 235.2,597.4 235.2,597.4 C235.2,597.4 237.1,607.4 237.1,607.4 C237.1,607.4 239.0,623.7 239.0,623.7 C239.0,623.7 240.2,640.7 240.2,640.7 C240.2,640.7 243.0,644.0 243.0,644.0 C243.0,644.0 245.4,645.5 245.4,645.5 C245.4,645.5 246.7,600.0 246.7,600.0 C246.7,600.0 248.0,645.0 248.0,645.0 C248.0,645.0 249.5,640.0 249.5,640.0 C249.5,640.0 251.5,612.0 251.5,612.0 C251.5,612.0 253.4,600.0 253.4,600.0 C253.4,600.0 260.1,598.3 260.1,598.3 C260.1,598.3 262.5,600.7 262.5,600.7 C262.5,600.7 264.4,614.0 264.4,614.0 C264.4,614.0 265.0,630.0 265.0,630.0 C265.0,630.0 265.5,637.3 265.5,637.3 C265.5,637.3 265.8,632.9 266.1,630.0 C266.4,627.2 266.5,625.7 267.2,623.0 C267.4,622.3 267.8,621.5 268.5,621.5 C270.9,621.5 272.4,622.8 275.0,623.0 C277.4,623.0 279.5,623.0 281.0,622.5 C282.3,621.3 281.7,617.0 282.3,617.0 C282.9,617.0 282.8,620.5 283.8,622.5 C284.3,623.5 285.1,624.5 286.0,624.5 C286.8,624.5 286.9,622.7 288.0,622.5 C292.5,622.5 295.2,622.5 300.0,622.5 C302.8,622.4 304.3,622.5 307.0,622.0 C309.1,621.6 310.0,620.9 312.0,620.3 C315.2,619.4 316.8,619.1 320.0,618.3 C322.0,617.8 323.0,617.3 325.0,617.0 C326.8,617.0 328.5,617.0 329.5,617.0 C330.4,618.2 329.5,622.0 330.4,622.5 C337.2,622.5 343.1,622.5 351.0,622.5 C351.7,622.5 351.6,621.0 352.0,621.0 C352.4,621.0 352.3,622.4 353.0,622.5 C357.9,622.5 361.1,622.5 366.0,622.5 C366.7,622.4 366.6,621.0 367.0,621.0 C367.4,621.0 367.3,622.5 368.0,622.5 C382.9,622.5 391.2,622.5 406.0,622.5 C407.0,622.5 406.9,624.5 407.5,624.5 C408.1,624.5 408.2,623.0 409.0,622.5 C409.6,622.0 410.8,622.5 411.0,622.0 C413.1,614.7 413.2,602.4 414.7,602.3 C416.2,602.3 416.0,614.8 418.5,621.5 C419.0,622.5 421.8,621.5 422.3,622.5 C424.9,629.2 424.6,641.6 426.2,641.6 C427.8,641.6 427.9,629.8 430.3,622.5 C431.0,620.3 433.1,620.1 434.0,618.0 C436.3,612.4 436.5,603.2 438.1,603.2 C440.0,603.7 440.3,613.9 442.6,620.5 C443.0,621.6 443.9,622.2 445.0,622.5 C446.8,622.5 449.0,622.5 449.9,622.5 C452.0,625.4 451.5,628.8 452.5,633.0 C453.4,636.8 453.9,642.4 454.8,642.4 C455.7,642.2 456.1,636.2 457.0,632.0 C457.8,628.2 457.0,623.1 458.9,622.5 C476.9,622.5 491.1,622.5 510.5,622.5 C512.5,622.3 511.7,617.4 512.5,617.4 C513.3,617.4 512.6,622.0 514.5,622.5 C520.9,622.5 527.8,622.5 533.3,622.5 C535.1,623.7 534.4,631.8 535.1,631.8 C535.8,631.8 535.1,622.9 536.9,622.5 C564.2,622.5 583.5,622.5 612.0,622.5 C613.9,622.3 613.1,616.7 613.9,616.7 C614.7,616.7 614.5,621.0 615.8,622.5 C616.5,622.5 618.0,622.5 619.0,622.5 C619.9,623.0 619.9,625.0 620.5,625.0 C621.1,625.0 621.0,622.7 622.0,622.5 C625.6,622.5 628.4,622.5 632.0,622.5 C632.8,622.4 632.6,620.5 633.0,620.5 C633.4,620.5 633.1,622.4 634.0,622.5 C643.4,622.5 649.3,622.5 658.7,622.5 C659.6,622.4 659.3,620.5 659.7,620.5 C660.1,620.5 659.8,622.4 660.7,622.5 C670.8,622.5 676.9,622.5 687.0,622.5 C687.9,622.6 687.6,624.5 688.0,624.5 C688.4,624.5 688.2,622.6 689.0,622.5 C695.8,622.5 700.6,622.5 707.0,622.5 C708.3,622.7 707.8,626.0 708.4,626.0 C709.0,626.0 708.4,622.7 709.8,622.5 C717.3,622.5 722.9,622.5 730.5,622.5 C732.2,622.2 732.0,618.7 733.0,618.7 C734.0,618.7 734.0,621.9 735.5,622.5 C737.8,622.5 740.1,622.5 742.5,622.5 C743.3,622.3 743.2,620.5 743.6,620.5 C744.0,620.5 743.8,622.4 744.7,622.5 C750.4,622.5 754.3,622.5 760.0,622.5 C760.9,622.4 760.7,620.5 761.1,620.5 C761.5,620.5 761.4,622.4 762.2,622.5 C767.0,622.5 770.5,622.5 775.3,622.5 C776.1,622.6 775.9,624.5 776.3,624.5 C776.7,624.5 776.5,622.6 777.3,622.5 C783.1,622.5 787.2,622.5 793.0,622.5 C793.8,622.4 793.6,620.5 794.0,620.5 C794.4,620.5 794.1,622.4 795.0,622.5 C806.1,622.5 812.9,622.5 824.0,622.5 C824.9,622.6 824.6,624.5 825.0,624.5 C825.4,624.5 825.2,622.7 826.0,622.5 C827.9,622.5 829.8,622.5 831.7,622.5 C832.5,622.3 832.3,620.5 832.7,620.5 C833.1,620.5 832.8,622.5 833.7,622.5 C860.1,622.5 875.2,622.5 901.0,622.5 C902.9,622.4 902.1,617.9 902.9,617.9 C903.7,617.9 903.1,622.1 904.8,622.5 C911.5,622.5 916.8,622.5 924.0,622.5 C924.8,622.4 924.6,620.5 925.0,620.5 C925.4,620.5 925.1,622.5 926.0,622.5 C945.3,622.5 957.2,622.5 975.5,622.5 C977.3,622.7 976.6,628.2 977.3,628.2 C978.0,628.2 977.3,622.8 979.1,622.5 C992.4,622.5 1001.6,622.5 1016.0,622.5 C1017.0,622.4 1016.9,620.5 1017.5,620.5 C1018.1,620.5 1018.2,622.1 1019.0,622.5 C1019.6,622.5 1020.4,622.5 1021.0,622.5 C1021.8,622.1 1021.9,620.5 1022.5,620.5 C1023.1,620.5 1023.1,622.4 1024.0,622.5 C1030.1,622.5 1034.6,622.5 1040.0,622.5 C1041.6,622.9 1041.0,626.9 1041.6,626.9 C1042.2,626.9 1041.6,622.7 1043.2,622.5 C1057.8,622.5 1068.1,622.5 1082.5,622.5 C1084.5,622.2 1083.7,619.2 1084.5,617.0" stroke="rgba(230,40,25,0.85)" stroke-width="3"/>
<path d="M179.6,622.5 H1084.8" stroke="#3316c8" stroke-width="3.1" stroke-linecap="butt"/>
</g>
</svg>
<div class="tbl hd"><div class="c3"><span class="sx">Ladepunkt</span></div><div class="c3"><span class="sx">Ladeparameter</span></div><div class="c4"><span class="sx">geladen</span></div><div class="c2"><span class="sx">SoC</span></div></div>
<div class="tbl rw"><div class="c3"><span class="sx"><b>TWC</b></span></div><div class="c3"><span class="sx">0 W / 0 A</span></div><div class="c4"><span class="sx">0,0 kWh / 0,0 km</span></div><div class="c2"><span class="sx">--</span></div></div>
<hr>
<div style="height:102.4px"></div>
<div class="tbl hd t2"><div class="c3"><span class="sx">Gerät</span></div><div class="c3"><span class="sx">Verbrauch</span></div><div class="c3"><span class="sx">Modus</span></div><div class="c3"><span class="sx">Laufzeit</span></div></div>
<div class="tbl rw t2"><div class="c3"><span class="sx"><b>AVMWallbox</b></span></div><div class="c3"><span class="sx">0 W (1.640,50 kWh)</span></div><div class="c3"><span class="sx">Automatik</span></div><div class="c3"><span class="sx"><span class=mn>25 Min</span></span></div></div>
<div class="tbl rw t2"><div class="c3"><span class="sx"><b>Waschmaschin</b></span></div><div class="c3"><span class="sx">0 W (227,10 kWh)</span></div><div class="c3"><span class="sx">Automatik</span></div><div class="c3"><span class="sx"><span class=mn>22 Min</span></span></div></div>
<div class="tbl rw t2"><div class="c3"><span class="sx"><b>Trockner</b></span></div><div class="c3"><span class="sx">0 W (276,13 kWh)</span></div><div class="c3"><span class="sx">Automatik</span></div><div class="c3"><span class="sx"><span class=mn>18 Min</span></span></div></div>
<div class="tbl rw t2"><div class="c3"><span class="sx"><b>Geschir</b></span></div><div class="c3"><span class="sx">0 W (122,19 kWh)</span></div><div class="c3"><span class="sx">Automatik</span></div><div class="c3"><span class="sx"><span class=mn>13 Min</span></span></div></div>
</body></html>
